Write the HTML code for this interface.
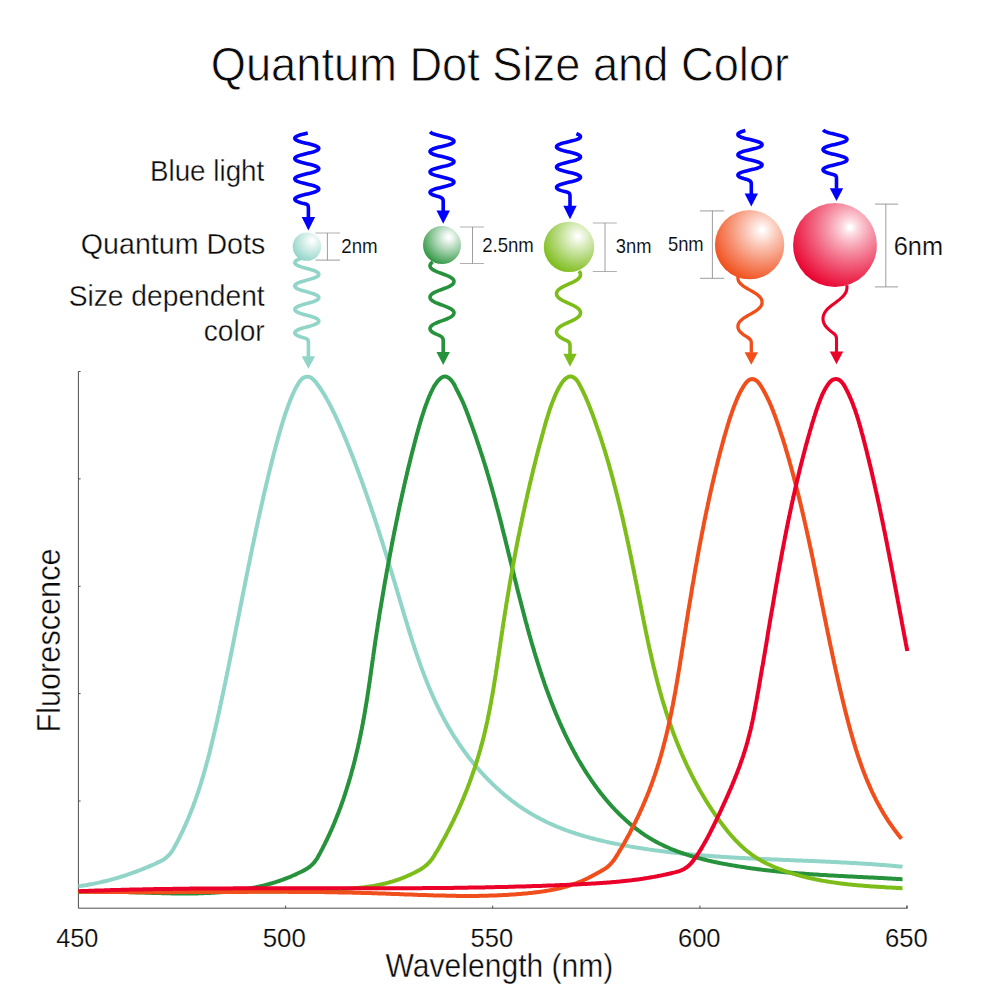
<!DOCTYPE html>
<html><head><meta charset="utf-8"><title>Quantum Dot Size and Color</title>
<style>
html,body{margin:0;padding:0;background:#fff;}
body{width:1000px;height:1000px;overflow:hidden;font-family:"Liberation Sans",sans-serif;}
svg{display:block;}
text{font-family:"Liberation Sans",sans-serif;fill:#0a0a0a;stroke:#fff;}
</style></head><body>
<svg width="1000" height="1000" viewBox="0 0 1000 1000">
<defs>
<radialGradient id="g0" gradientUnits="userSpaceOnUse" cx="311.94" cy="240.64" r="22.15"><stop offset="0" stop-color="#ffffff"/><stop offset="0.03" stop-color="#ffffff"/><stop offset="0.06" stop-color="#fcfefd"/><stop offset="0.10" stop-color="#f7fcfb"/><stop offset="0.15" stop-color="#f1faf8"/><stop offset="0.22" stop-color="#e9f6f4"/><stop offset="0.30" stop-color="#e0f3ef"/><stop offset="0.40" stop-color="#d4eeea"/><stop offset="0.50" stop-color="#c9eae4"/><stop offset="0.60" stop-color="#bde5de"/><stop offset="0.70" stop-color="#b2e1d8"/><stop offset="0.80" stop-color="#a6dcd3"/><stop offset="0.90" stop-color="#9bd8cd"/><stop offset="1.00" stop-color="#8fd3c7"/></radialGradient>
<radialGradient id="g1" gradientUnits="userSpaceOnUse" cx="448.75" cy="237.12" r="29.64"><stop offset="0" stop-color="#ffffff"/><stop offset="0.03" stop-color="#ffffff"/><stop offset="0.06" stop-color="#fafcfb"/><stop offset="0.10" stop-color="#f3f9f4"/><stop offset="0.15" stop-color="#e9f4eb"/><stop offset="0.22" stop-color="#daedde"/><stop offset="0.30" stop-color="#c9e4cf"/><stop offset="0.40" stop-color="#b4d9bb"/><stop offset="0.50" stop-color="#9ecea7"/><stop offset="0.60" stop-color="#87c393"/><stop offset="0.70" stop-color="#70b77e"/><stop offset="0.80" stop-color="#59ac69"/><stop offset="0.90" stop-color="#42a054"/><stop offset="1.00" stop-color="#2a943f"/></radialGradient>
<radialGradient id="g2" gradientUnits="userSpaceOnUse" cx="577.95" cy="236.32" r="39.31"><stop offset="0" stop-color="#ffffff"/><stop offset="0.03" stop-color="#ffffff"/><stop offset="0.06" stop-color="#fafcf6"/><stop offset="0.10" stop-color="#f4f9ec"/><stop offset="0.15" stop-color="#edf6df"/><stop offset="0.22" stop-color="#e3f1cd"/><stop offset="0.30" stop-color="#d8ebba"/><stop offset="0.40" stop-color="#cae4a2"/><stop offset="0.50" stop-color="#bcdd8a"/><stop offset="0.60" stop-color="#afd672"/><stop offset="0.70" stop-color="#a1cf5b"/><stop offset="0.80" stop-color="#94c844"/><stop offset="0.90" stop-color="#87c22d"/><stop offset="1.00" stop-color="#7abb16"/></radialGradient>
<radialGradient id="g3" gradientUnits="userSpaceOnUse" cx="761.90" cy="230.10" r="54.05"><stop offset="0" stop-color="#ffffff"/><stop offset="0.03" stop-color="#ffffff"/><stop offset="0.06" stop-color="#fef7f5"/><stop offset="0.10" stop-color="#feeee9"/><stop offset="0.15" stop-color="#fde4dc"/><stop offset="0.22" stop-color="#fcd6ca"/><stop offset="0.30" stop-color="#fac6b6"/><stop offset="0.40" stop-color="#f9b49e"/><stop offset="0.50" stop-color="#f7a287"/><stop offset="0.60" stop-color="#f69070"/><stop offset="0.70" stop-color="#f47f5a"/><stop offset="0.80" stop-color="#f36e44"/><stop offset="0.90" stop-color="#f15d2e"/><stop offset="1.00" stop-color="#f04c19"/></radialGradient>
<radialGradient id="g4" gradientUnits="userSpaceOnUse" cx="849.87" cy="227.40" r="65.36"><stop offset="0" stop-color="#ffffff"/><stop offset="0.03" stop-color="#ffffff"/><stop offset="0.06" stop-color="#feeff2"/><stop offset="0.10" stop-color="#fce0e5"/><stop offset="0.15" stop-color="#fbcfd8"/><stop offset="0.22" stop-color="#f9bac6"/><stop offset="0.30" stop-color="#f7a3b4"/><stop offset="0.40" stop-color="#f4899e"/><stop offset="0.50" stop-color="#f27089"/><stop offset="0.60" stop-color="#f05876"/><stop offset="0.70" stop-color="#ee4163"/><stop offset="0.80" stop-color="#ec2b50"/><stop offset="0.90" stop-color="#ea153f"/><stop offset="1.00" stop-color="#e8002d"/></radialGradient>
</defs>
<rect width="1000" height="1000" fill="#ffffff"/>
<g id="axes">
<path d="M78.4 371.3 V908.2 H907.5" fill="none" stroke="#4d4d4d" stroke-width="1"/>
<path d="M78.4 371.5 h2.2 M78.4 478.9 h2.2 M78.4 586.3 h2.2 M78.4 693.6 h2.2 M78.4 801.0 h2.2 M285.6 908.2 v-2.6 M492.7 908.2 v-2.6 M699.9 908.2 v-2.6 M907.0 908.2 v-2.6 M907.0 908.2 v-2.6" fill="none" stroke="#4d4d4d" stroke-width="1"/>
</g>
<g id="curves">
<path d="M78.4 886.2 L79.6 886.1 L80.8 885.9 L82.0 885.7 L83.3 885.5 L84.5 885.4 L85.7 885.2 L86.9 885.0 L88.1 884.7 L89.3 884.5 L90.5 884.3 L91.7 884.1 L92.9 883.9 L94.1 883.6 L95.3 883.4 L96.5 883.1 L97.7 882.9 L98.9 882.6 L100.0 882.4 L101.2 882.1 L102.4 881.8 L103.6 881.5 L104.8 881.2 L106.0 881.0 L107.2 880.7 L108.3 880.4 L109.5 880.1 L110.7 879.7 L111.9 879.4 L113.0 879.1 L114.2 878.8 L115.4 878.4 L116.5 878.1 L117.7 877.8 L118.9 877.4 L120.0 877.1 L121.2 876.7 L122.4 876.3 L123.5 876.0 L124.7 875.6 L125.8 875.2 L127.0 874.8 L128.1 874.4 L129.3 874.0 L130.4 873.6 L131.6 873.2 L132.7 872.8 L133.9 872.4 L135.0 872.0 L136.2 871.6 L137.3 871.1 L138.4 870.7 L139.6 870.3 L140.7 869.8 L141.8 869.4 L143.0 868.9 L144.1 868.5 L145.2 868.0 L146.4 867.5 L147.5 867.1 L148.6 866.6 L149.7 866.1 L150.8 865.6 L152.0 865.2 L153.1 864.7 L154.2 864.2 L155.3 863.7 L156.4 863.2 L157.5 862.6 L158.6 862.1 L159.7 861.6 L160.4 861.3 L161.9 860.5 L163.2 859.7 L164.6 858.8 L165.8 857.9 L167.0 856.9 L168.2 855.8 L169.3 854.7 L170.3 853.5 L171.3 852.2 L172.2 850.9 L173.1 849.5 L173.4 849.0 L174.0 847.9 L174.5 846.9 L175.1 845.8 L175.7 844.8 L176.3 843.7 L176.8 842.7 L177.4 841.6 L177.9 840.5 L178.5 839.5 L179.0 838.4 L179.6 837.3 L180.1 836.3 L180.6 835.2 L181.1 834.1 L181.7 833.0 L182.2 832.0 L182.7 830.9 L183.2 829.8 L183.7 828.7 L184.2 827.6 L184.7 826.5 L185.2 825.5 L185.7 824.4 L186.1 823.3 L186.6 822.2 L187.1 821.1 L187.6 820.0 L188.0 818.9 L188.5 817.8 L188.9 816.7 L189.4 815.6 L189.8 814.5 L190.3 813.4 L190.7 812.3 L191.2 811.1 L191.6 810.0 L192.0 808.9 L192.5 807.8 L192.9 806.7 L193.3 805.6 L193.7 804.4 L194.1 803.3 L194.6 802.2 L195.0 801.1 L195.4 799.9 L195.8 798.8 L196.2 797.7 L196.6 796.6 L196.9 795.4 L197.3 794.3 L197.7 793.2 L198.1 792.0 L198.5 790.9 L198.8 789.8 L199.2 788.6 L199.6 787.5 L200.0 786.3 L200.3 785.2 L200.7 784.1 L201.0 782.9 L201.4 781.8 L201.7 780.6 L202.1 779.5 L202.4 778.3 L202.8 777.2 L203.1 776.0 L203.5 774.9 L203.8 773.7 L204.1 772.6 L204.5 771.4 L204.8 770.3 L205.1 769.1 L205.4 767.9 L205.8 766.8 L206.1 765.6 L206.4 764.5 L206.7 763.3 L207.0 762.1 L207.3 761.0 L207.7 759.8 L208.0 758.7 L208.3 757.5 L208.6 756.3 L208.9 755.2 L209.2 754.0 L209.5 752.8 L209.8 751.7 L210.1 750.5 L210.4 749.3 L210.6 748.2 L210.9 747.0 L211.2 745.8 L211.5 744.6 L211.8 743.5 L212.1 742.3 L212.4 741.1 L212.6 740.0 L212.9 738.8 L213.2 737.6 L213.5 736.4 L213.7 735.3 L214.0 734.1 L214.3 732.9 L214.6 731.7 L214.8 730.6 L215.1 729.4 L215.4 728.2 L215.6 727.0 L215.9 725.9 L216.2 724.7 L216.4 723.5 L216.7 722.3 L217.0 721.2 L217.2 720.0 L217.5 718.8 L217.7 717.6 L218.0 716.4 L218.3 715.3 L218.5 714.1 L218.8 712.9 L219.0 711.7 L219.3 710.6 L219.6 709.4 L219.8 708.2 L220.1 707.0 L220.3 705.8 L220.6 704.7 L220.8 703.5 L221.1 702.3 L221.3 701.1 L221.6 699.9 L221.8 698.8 L222.1 697.6 L222.3 696.4 L222.6 695.2 L222.8 694.1 L223.1 692.9 L223.3 691.7 L223.6 690.5 L223.8 689.3 L224.1 688.2 L224.3 687.0 L224.6 685.8 L224.8 684.6 L225.1 683.4 L225.3 682.3 L225.6 681.1 L225.8 679.9 L226.0 678.7 L226.3 677.5 L226.5 676.4 L226.8 675.2 L227.0 674.0 L227.3 672.8 L227.5 671.6 L227.7 670.5 L228.0 669.3 L228.2 668.1 L228.5 666.9 L228.7 665.8 L228.9 664.6 L229.2 663.4 L229.4 662.2 L229.7 661.0 L229.9 659.9 L230.1 658.7 L230.4 657.5 L230.6 656.3 L230.8 655.1 L231.1 654.0 L231.3 652.8 L231.6 651.6 L231.8 650.4 L232.0 649.2 L232.3 648.1 L232.5 646.9 L232.7 645.7 L233.0 644.5 L233.2 643.3 L233.4 642.2 L233.7 641.0 L233.9 639.8 L234.1 638.6 L234.4 637.4 L234.6 636.3 L234.8 635.1 L235.1 633.9 L235.3 632.7 L235.5 631.5 L235.8 630.4 L236.0 629.2 L236.2 628.0 L236.5 626.8 L236.7 625.6 L236.9 624.5 L237.2 623.3 L237.4 622.1 L237.6 620.9 L237.9 619.7 L238.1 618.6 L238.3 617.4 L238.6 616.2 L238.8 615.0 L239.0 613.8 L239.3 612.7 L239.5 611.5 L239.7 610.3 L240.0 609.1 L240.2 607.9 L240.4 606.8 L240.7 605.6 L240.9 604.4 L241.1 603.2 L241.4 602.1 L241.6 600.9 L241.8 599.7 L242.1 598.5 L242.3 597.3 L242.5 596.2 L242.8 595.0 L243.0 593.8 L243.2 592.6 L243.5 591.4 L243.7 590.3 L243.9 589.1 L244.2 587.9 L244.4 586.7 L244.7 585.6 L244.9 584.4 L245.1 583.2 L245.4 582.0 L245.6 580.8 L245.8 579.7 L246.1 578.5 L246.3 577.3 L246.5 576.1 L246.8 575.0 L247.0 573.8 L247.2 572.6 L247.5 571.4 L247.7 570.2 L248.0 569.1 L248.2 567.9 L248.4 566.7 L248.7 565.5 L248.9 564.4 L249.2 563.2 L249.4 562.0 L249.6 560.8 L249.9 559.7 L250.1 558.5 L250.4 557.3 L250.6 556.1 L250.8 555.0 L251.1 553.8 L251.3 552.6 L251.6 551.4 L251.8 550.3 L252.1 549.1 L252.3 547.9 L252.5 546.7 L252.8 545.5 L253.0 544.4 L253.3 543.2 L253.5 542.0 L253.8 540.9 L254.0 539.7 L254.3 538.5 L254.5 537.3 L254.8 536.2 L255.0 535.0 L255.3 533.8 L255.5 532.6 L255.8 531.5 L256.0 530.3 L256.3 529.1 L256.5 527.9 L256.8 526.8 L257.0 525.6 L257.3 524.4 L257.5 523.2 L257.8 522.1 L258.0 520.9 L258.3 519.7 L258.5 518.6 L258.8 517.4 L259.1 516.2 L259.3 515.0 L259.6 513.9 L259.8 512.7 L260.1 511.5 L260.4 510.4 L260.6 509.2 L260.9 508.0 L261.1 506.8 L261.4 505.7 L261.7 504.5 L261.9 503.3 L262.2 502.2 L262.5 501.0 L262.7 499.8 L263.0 498.6 L263.3 497.5 L263.5 496.3 L263.8 495.1 L264.1 494.0 L264.3 492.8 L264.6 491.6 L264.9 490.5 L265.1 489.3 L265.4 488.1 L265.7 487.0 L266.0 485.8 L266.2 484.6 L266.5 483.5 L266.8 482.3 L267.1 481.1 L267.4 480.0 L267.6 478.8 L267.9 477.6 L268.2 476.5 L268.5 475.3 L268.8 474.1 L269.0 473.0 L269.3 471.8 L269.6 470.6 L269.9 469.5 L270.2 468.3 L270.5 467.1 L270.8 466.0 L271.1 464.8 L271.3 463.6 L271.6 462.5 L271.9 461.3 L272.2 460.1 L272.5 459.0 L272.8 457.8 L273.1 456.6 L273.4 455.5 L273.7 454.3 L274.0 453.2 L274.3 452.0 L274.6 450.8 L274.9 449.7 L275.2 448.5 L275.5 447.3 L275.8 446.2 L276.1 445.0 L276.4 443.9 L276.8 442.7 L277.1 441.5 L277.4 440.4 L277.7 439.2 L278.0 438.1 L278.3 436.9 L278.7 435.8 L279.0 434.6 L279.3 433.4 L279.6 432.3 L280.0 431.1 L280.3 430.0 L280.6 428.8 L281.0 427.7 L281.3 426.5 L281.7 425.4 L282.0 424.2 L282.4 423.1 L282.7 421.9 L283.1 420.8 L283.5 419.6 L283.8 418.5 L284.2 417.3 L284.6 416.2 L284.9 415.0 L285.3 413.9 L285.7 412.8 L286.1 411.6 L286.5 410.5 L286.9 409.3 L287.3 408.2 L287.7 407.1 L288.1 405.9 L288.5 404.8 L288.9 403.7 L289.4 402.6 L289.8 401.4 L290.2 400.3 L290.7 399.2 L291.1 398.1 L291.6 397.0 L292.1 395.9 L292.5 394.8 L293.0 393.7 L293.5 392.6 L294.0 391.6 L294.5 390.5 L295.0 389.4 L295.6 388.3 L296.1 387.3 L296.7 386.2 L297.3 385.2 L298.0 384.1 L298.6 383.1 L299.3 382.0 L300.0 381.0 L300.8 380.1 L301.6 379.2 L302.5 378.5 L303.5 377.8 L304.6 377.2 L305.7 376.9 L306.9 376.7 L308.0 376.7 L309.2 376.9 L310.3 377.3 L311.3 377.9 L312.3 378.6 L313.2 379.4 L314.1 380.2 L314.9 381.2 L315.7 382.1 L316.5 383.1 L317.2 384.1 L317.9 385.0 L318.6 386.0 L319.3 387.0 L320.0 388.0 L320.7 389.0 L321.3 390.0 L322.0 391.0 L322.6 392.0 L323.2 393.0 L323.9 394.0 L324.5 395.0 L325.1 396.1 L325.7 397.1 L326.3 398.1 L326.9 399.2 L327.5 400.2 L328.0 401.3 L328.6 402.3 L329.2 403.4 L329.7 404.4 L330.3 405.5 L330.9 406.6 L331.4 407.6 L331.9 408.7 L332.5 409.8 L333.0 410.9 L333.5 412.0 L334.1 413.0 L334.6 414.1 L335.1 415.2 L335.6 416.3 L336.1 417.4 L336.6 418.5 L337.1 419.6 L337.6 420.7 L338.1 421.8 L338.6 422.9 L339.1 424.0 L339.6 425.1 L340.1 426.2 L340.6 427.3 L341.1 428.4 L341.5 429.5 L342.0 430.6 L342.5 431.7 L343.0 432.8 L343.4 433.9 L343.9 435.0 L344.4 436.1 L344.8 437.2 L345.3 438.3 L345.7 439.4 L346.2 440.5 L346.7 441.7 L347.1 442.8 L347.6 443.9 L348.0 445.0 L348.5 446.1 L348.9 447.2 L349.4 448.3 L349.8 449.5 L350.2 450.6 L350.7 451.7 L351.1 452.8 L351.6 453.9 L352.0 455.0 L352.4 456.2 L352.9 457.3 L353.3 458.4 L353.7 459.5 L354.2 460.6 L354.6 461.8 L355.0 462.9 L355.4 464.0 L355.9 465.1 L356.3 466.2 L356.7 467.4 L357.1 468.5 L357.5 469.6 L358.0 470.7 L358.4 471.9 L358.8 473.0 L359.2 474.1 L359.6 475.2 L360.0 476.4 L360.4 477.5 L360.9 478.6 L361.3 479.7 L361.7 480.9 L362.1 482.0 L362.5 483.1 L362.9 484.3 L363.3 485.4 L363.7 486.5 L364.1 487.6 L364.5 488.8 L364.9 489.9 L365.3 491.0 L365.7 492.2 L366.1 493.3 L366.5 494.4 L366.9 495.6 L367.3 496.7 L367.7 497.8 L368.1 499.0 L368.5 500.1 L368.8 501.2 L369.2 502.4 L369.6 503.5 L370.0 504.6 L370.4 505.8 L370.8 506.9 L371.2 508.1 L371.5 509.2 L371.9 510.3 L372.3 511.5 L372.7 512.6 L373.1 513.7 L373.5 514.9 L373.8 516.0 L374.2 517.2 L374.6 518.3 L375.0 519.4 L375.3 520.6 L375.7 521.7 L376.1 522.9 L376.5 524.0 L376.8 525.1 L377.2 526.3 L377.6 527.4 L377.9 528.6 L378.3 529.7 L378.7 530.9 L379.0 532.0 L379.4 533.1 L379.8 534.3 L380.1 535.4 L380.5 536.6 L380.9 537.7 L381.2 538.9 L381.6 540.0 L382.0 541.2 L382.3 542.3 L382.7 543.4 L383.0 544.6 L383.4 545.7 L383.8 546.9 L384.1 548.0 L384.5 549.2 L384.8 550.3 L385.2 551.5 L385.6 552.6 L385.9 553.8 L386.3 554.9 L386.6 556.1 L387.0 557.2 L387.3 558.4 L387.7 559.5 L388.0 560.7 L388.4 561.8 L388.7 563.0 L389.1 564.1 L389.4 565.3 L389.8 566.4 L390.1 567.6 L390.5 568.7 L390.8 569.9 L391.2 571.0 L391.5 572.2 L391.9 573.3 L392.2 574.5 L392.6 575.6 L392.9 576.8 L393.3 578.0 L393.6 579.1 L394.0 580.3 L394.3 581.4 L394.7 582.6 L395.0 583.7 L395.4 584.9 L395.7 586.0 L396.0 587.2 L396.4 588.3 L396.7 589.5 L397.1 590.7 L397.4 591.8 L397.8 593.0 L398.1 594.1 L398.4 595.3 L398.8 596.4 L399.1 597.6 L399.5 598.8 L399.8 599.9 L400.2 601.1 L400.5 602.2 L400.8 603.4 L401.2 604.5 L401.5 605.7 L401.9 606.9 L402.2 608.0 L402.6 609.2 L402.9 610.3 L403.2 611.5 L403.6 612.6 L403.9 613.8 L404.3 615.0 L404.6 616.1 L405.0 617.3 L405.3 618.4 L405.7 619.6 L406.0 620.7 L406.4 621.9 L406.7 623.0 L407.1 624.2 L407.4 625.3 L407.8 626.5 L408.1 627.7 L408.5 628.8 L408.8 630.0 L409.2 631.1 L409.5 632.3 L409.9 633.4 L410.3 634.6 L410.6 635.7 L411.0 636.9 L411.3 638.0 L411.7 639.2 L412.1 640.3 L412.4 641.4 L412.8 642.6 L413.2 643.7 L413.6 644.9 L413.9 646.0 L414.3 647.2 L414.7 648.3 L415.1 649.5 L415.4 650.6 L415.8 651.7 L416.2 652.9 L416.6 654.0 L417.0 655.2 L417.4 656.3 L417.8 657.4 L418.2 658.6 L418.6 659.7 L419.0 660.8 L419.4 662.0 L419.8 663.1 L420.2 664.2 L420.6 665.4 L421.0 666.5 L421.4 667.6 L421.8 668.7 L422.2 669.9 L422.6 671.0 L423.1 672.1 L423.5 673.2 L423.9 674.4 L424.3 675.5 L424.8 676.6 L425.2 677.7 L425.6 678.8 L426.1 679.9 L426.5 681.1 L427.0 682.2 L427.4 683.3 L427.9 684.4 L428.3 685.5 L428.8 686.6 L429.2 687.7 L429.7 688.8 L430.2 689.9 L430.6 691.0 L431.1 692.1 L431.6 693.2 L432.0 694.3 L432.5 695.4 L433.0 696.5 L433.5 697.6 L434.0 698.7 L434.5 699.8 L435.0 700.8 L435.5 701.9 L436.0 703.0 L436.5 704.1 L437.0 705.2 L437.5 706.3 L438.1 707.3 L438.6 708.4 L439.1 709.5 L439.6 710.6 L440.2 711.6 L440.7 712.7 L441.3 713.8 L441.8 714.8 L442.4 715.9 L442.9 716.9 L443.5 718.0 L444.1 719.1 L444.6 720.1 L445.2 721.2 L445.8 722.2 L446.4 723.3 L446.9 724.3 L447.5 725.3 L448.1 726.4 L448.7 727.4 L449.3 728.5 L449.9 729.5 L450.6 730.5 L451.2 731.6 L451.8 732.6 L452.4 733.6 L453.1 734.6 L453.7 735.7 L454.3 736.7 L455.0 737.7 L455.6 738.7 L456.3 739.7 L457.0 740.7 L457.6 741.7 L458.3 742.7 L459.0 743.7 L459.6 744.7 L460.3 745.7 L461.0 746.7 L461.7 747.7 L462.4 748.7 L463.1 749.7 L463.8 750.7 L464.5 751.7 L465.2 752.6 L465.9 753.6 L466.7 754.6 L467.4 755.5 L468.1 756.5 L468.9 757.5 L469.6 758.4 L470.3 759.4 L471.1 760.3 L471.9 761.2 L472.6 762.2 L473.4 763.1 L474.1 764.1 L474.9 765.0 L475.7 765.9 L476.5 766.8 L477.2 767.8 L478.0 768.7 L478.8 769.6 L479.6 770.5 L480.4 771.4 L481.2 772.3 L482.0 773.2 L482.9 774.1 L483.7 775.0 L484.5 775.8 L485.3 776.7 L486.2 777.6 L487.0 778.5 L487.8 779.3 L488.7 780.2 L489.5 781.0 L490.4 781.9 L491.2 782.7 L492.1 783.6 L492.9 784.4 L493.8 785.2 L494.7 786.1 L495.6 786.9 L496.4 787.7 L497.3 788.5 L498.2 789.3 L499.1 790.1 L500.0 790.9 L500.9 791.7 L501.8 792.5 L502.7 793.3 L503.6 794.1 L504.5 794.8 L505.5 795.6 L506.4 796.4 L507.3 797.1 L508.3 797.9 L509.2 798.6 L510.1 799.4 L511.1 800.1 L512.0 800.8 L513.0 801.5 L513.9 802.3 L514.9 803.0 L515.9 803.7 L516.8 804.4 L517.8 805.1 L518.8 805.8 L519.7 806.4 L520.7 807.1 L521.7 807.8 L522.7 808.5 L523.7 809.1 L524.7 809.8 L525.7 810.4 L526.7 811.0 L527.7 811.7 L528.7 812.3 L529.7 812.9 L530.8 813.5 L531.8 814.1 L532.8 814.7 L533.9 815.3 L534.9 815.9 L535.9 816.5 L537.0 817.1 L538.0 817.6 L539.1 818.2 L540.1 818.8 L541.2 819.3 L542.2 819.8 L543.3 820.4 L544.4 820.9 L545.4 821.4 L546.5 822.0 L547.6 822.5 L548.7 823.0 L549.8 823.5 L550.8 824.0 L551.9 824.4 L553.0 824.9 L554.1 825.4 L555.2 825.9 L556.3 826.3 L557.4 826.8 L558.5 827.2 L559.6 827.7 L560.8 828.1 L561.9 828.6 L563.0 829.0 L564.1 829.4 L565.2 829.8 L566.4 830.3 L567.5 830.7 L568.6 831.1 L569.8 831.5 L570.9 831.9 L572.0 832.3 L573.2 832.6 L574.3 833.0 L575.4 833.4 L576.6 833.8 L577.7 834.1 L578.9 834.5 L580.0 834.8 L581.2 835.2 L582.3 835.5 L583.5 835.9 L584.7 836.2 L585.8 836.6 L587.0 836.9 L588.1 837.2 L589.3 837.5 L590.5 837.9 L591.6 838.2 L592.8 838.5 L594.0 838.8 L595.2 839.1 L596.3 839.4 L597.5 839.7 L598.7 840.0 L599.9 840.3 L601.0 840.5 L602.2 840.8 L603.4 841.1 L604.6 841.4 L605.8 841.6 L607.0 841.9 L608.1 842.2 L609.3 842.4 L610.5 842.7 L611.7 842.9 L612.9 843.2 L614.1 843.4 L615.3 843.7 L616.4 843.9 L617.6 844.1 L618.8 844.4 L620.0 844.6 L621.2 844.8 L622.4 845.1 L623.6 845.3 L624.8 845.5 L626.0 845.7 L627.2 845.9 L628.4 846.1 L629.6 846.4 L630.7 846.6 L631.9 846.8 L633.1 847.0 L634.3 847.2 L635.5 847.4 L636.7 847.6 L637.9 847.8 L639.1 848.0 L640.3 848.1 L641.5 848.3 L642.7 848.5 L643.9 848.7 L645.1 848.9 L646.3 849.1 L647.4 849.2 L648.6 849.4 L649.8 849.6 L651.0 849.8 L652.2 849.9 L653.4 850.1 L654.6 850.3 L655.8 850.4 L657.0 850.6 L658.2 850.7 L659.4 850.9 L660.6 851.0 L661.8 851.2 L663.0 851.3 L664.1 851.5 L665.3 851.6 L666.5 851.8 L667.7 851.9 L668.9 852.1 L670.1 852.2 L671.3 852.4 L672.5 852.5 L673.7 852.6 L674.9 852.8 L676.1 852.9 L677.3 853.0 L678.5 853.1 L679.7 853.3 L680.9 853.4 L682.1 853.5 L683.2 853.6 L684.4 853.8 L685.6 853.9 L686.8 854.0 L688.0 854.1 L689.2 854.2 L690.4 854.3 L691.6 854.4 L692.8 854.6 L694.0 854.7 L695.2 854.8 L696.4 854.9 L697.6 855.0 L698.8 855.1 L700.0 855.2 L701.2 855.3 L702.3 855.4 L703.5 855.5 L704.7 855.6 L705.9 855.7 L707.1 855.8 L708.3 855.8 L709.5 855.9 L710.7 856.0 L711.9 856.1 L713.1 856.2 L714.3 856.3 L715.5 856.4 L716.7 856.5 L717.9 856.5 L719.1 856.6 L720.3 856.7 L721.5 856.8 L722.7 856.9 L723.9 856.9 L725.0 857.0 L726.2 857.1 L727.4 857.2 L728.6 857.2 L729.8 857.3 L731.0 857.4 L732.2 857.5 L733.4 857.5 L734.6 857.6 L735.8 857.7 L737.0 857.7 L738.2 857.8 L739.4 857.9 L740.6 857.9 L741.8 858.0 L743.0 858.0 L744.2 858.1 L745.4 858.2 L746.6 858.2 L747.8 858.3 L749.0 858.4 L750.1 858.4 L751.3 858.5 L752.5 858.5 L753.7 858.6 L754.9 858.6 L756.1 858.7 L757.3 858.8 L758.5 858.8 L759.7 858.9 L760.9 858.9 L762.1 859.0 L763.3 859.0 L764.5 859.1 L765.7 859.1 L766.9 859.2 L768.1 859.2 L769.3 859.3 L770.5 859.3 L771.7 859.4 L772.9 859.4 L774.1 859.5 L775.3 859.5 L776.5 859.6 L777.7 859.6 L778.9 859.7 L780.1 859.7 L781.3 859.8 L782.5 859.8 L783.7 859.9 L784.8 859.9 L786.0 860.0 L787.2 860.0 L788.4 860.1 L789.6 860.1 L790.8 860.2 L792.0 860.2 L793.2 860.3 L794.4 860.3 L795.6 860.4 L796.8 860.4 L798.0 860.5 L799.2 860.5 L800.4 860.6 L801.6 860.6 L802.8 860.7 L804.0 860.7 L805.2 860.7 L806.4 860.8 L807.6 860.8 L808.8 860.9 L810.0 860.9 L811.2 861.0 L812.4 861.0 L813.6 861.1 L814.8 861.1 L816.0 861.2 L817.2 861.2 L818.4 861.3 L819.6 861.3 L820.8 861.4 L822.0 861.5 L823.2 861.5 L824.4 861.6 L825.6 861.6 L826.8 861.7 L828.0 861.7 L829.2 861.8 L830.4 861.8 L831.6 861.9 L832.8 861.9 L834.0 862.0 L835.2 862.1 L836.4 862.1 L837.6 862.2 L838.8 862.2 L840.0 862.3 L841.2 862.4 L842.4 862.4 L843.6 862.5 L844.8 862.5 L846.0 862.6 L847.2 862.7 L848.4 862.7 L849.6 862.8 L850.8 862.9 L852.0 862.9 L853.2 863.0 L854.4 863.1 L855.6 863.1 L856.8 863.2 L858.0 863.3 L859.2 863.4 L860.4 863.4 L861.6 863.5 L862.8 863.6 L864.0 863.7 L865.2 863.7 L866.4 863.8 L867.6 863.9 L868.8 864.0 L870.0 864.1 L871.2 864.1 L872.4 864.2 L873.6 864.3 L874.8 864.4 L876.0 864.5 L877.2 864.6 L878.4 864.7 L879.6 864.8 L880.8 864.9 L882.0 864.9 L883.2 865.0 L884.4 865.1 L885.6 865.2 L886.9 865.3 L888.1 865.4 L889.3 865.5 L890.5 865.6 L891.7 865.7 L892.9 865.9 L894.1 866.0 L895.3 866.1 L896.5 866.2 L897.7 866.3 L898.9 866.4 L900.1 866.5 L901.3 866.6 L902.5 866.8" fill="none" stroke="#91d4c8" stroke-width="4.0" stroke-linejoin="round"/>
<path d="M78.4 892.0 L79.6 892.0 L80.8 891.9 L81.9 891.9 L83.1 891.8 L84.3 891.8 L85.5 891.8 L86.7 891.7 L87.9 891.7 L89.1 891.7 L90.2 891.7 L91.4 891.6 L92.6 891.6 L93.8 891.6 L95.0 891.6 L96.2 891.6 L97.4 891.6 L98.6 891.6 L99.8 891.6 L101.0 891.6 L102.2 891.6 L103.4 891.6 L104.6 891.6 L105.8 891.6 L107.0 891.6 L108.2 891.7 L109.4 891.7 L110.6 891.7 L111.8 891.7 L113.1 891.7 L114.3 891.8 L115.5 891.8 L116.7 891.8 L117.9 891.8 L119.1 891.9 L120.3 891.9 L121.5 891.9 L122.7 892.0 L124.0 892.0 L125.2 892.0 L126.4 892.1 L127.6 892.1 L128.8 892.1 L130.0 892.2 L131.3 892.2 L132.5 892.2 L133.7 892.3 L134.9 892.3 L136.1 892.4 L137.4 892.4 L138.6 892.4 L139.8 892.5 L141.0 892.5 L142.2 892.6 L143.5 892.6 L144.7 892.6 L145.9 892.7 L147.1 892.7 L148.4 892.8 L149.6 892.8 L150.8 892.8 L152.0 892.9 L153.3 892.9 L154.5 892.9 L155.7 893.0 L156.9 893.0 L158.2 893.1 L159.4 893.1 L160.6 893.1 L161.8 893.2 L163.1 893.2 L164.3 893.2 L165.5 893.2 L166.7 893.3 L168.0 893.3 L169.2 893.3 L170.4 893.3 L171.6 893.4 L172.8 893.4 L174.1 893.4 L175.3 893.4 L176.5 893.4 L177.7 893.5 L179.0 893.5 L180.2 893.5 L181.4 893.5 L182.6 893.5 L183.9 893.5 L185.1 893.5 L186.3 893.5 L187.5 893.5 L188.7 893.5 L190.0 893.5 L191.2 893.5 L192.4 893.4 L193.6 893.4 L194.8 893.4 L196.1 893.4 L197.3 893.4 L198.5 893.3 L199.7 893.3 L200.9 893.3 L202.1 893.2 L203.4 893.2 L204.6 893.1 L205.8 893.1 L207.0 893.0 L208.2 893.0 L209.4 892.9 L210.6 892.9 L211.8 892.8 L213.1 892.7 L214.3 892.7 L215.5 892.6 L216.7 892.5 L217.9 892.4 L219.1 892.3 L220.3 892.3 L221.5 892.2 L222.7 892.1 L223.9 891.9 L225.1 891.8 L226.3 891.7 L227.5 891.6 L228.7 891.5 L229.9 891.4 L231.1 891.2 L232.3 891.1 L233.5 890.9 L234.7 890.8 L235.9 890.7 L237.1 890.5 L238.2 890.3 L239.4 890.2 L240.6 890.0 L241.8 889.8 L243.0 889.6 L244.2 889.4 L245.4 889.3 L246.5 889.1 L247.7 888.9 L248.9 888.6 L250.1 888.4 L251.2 888.2 L252.4 888.0 L253.6 887.7 L254.8 887.5 L255.9 887.3 L257.1 887.0 L258.3 886.7 L259.4 886.5 L260.6 886.2 L261.7 885.9 L262.9 885.7 L264.1 885.4 L265.2 885.1 L266.4 884.8 L267.5 884.5 L268.7 884.1 L269.8 883.8 L271.0 883.5 L272.1 883.2 L273.3 882.8 L274.4 882.5 L275.6 882.1 L276.7 881.7 L277.8 881.4 L279.0 881.0 L280.1 880.6 L281.2 880.2 L282.4 879.8 L283.5 879.4 L284.6 879.0 L285.8 878.5 L286.9 878.1 L288.0 877.7 L289.1 877.2 L290.2 876.8 L291.4 876.3 L292.5 875.8 L293.6 875.3 L294.7 874.9 L295.8 874.4 L296.9 873.8 L298.0 873.3 L299.1 872.8 L300.2 872.3 L301.3 871.7 L302.4 871.2 L303.5 870.6 L304.6 870.1 L305.4 869.6 L306.8 868.8 L308.1 867.9 L309.4 867.0 L310.6 866.0 L311.8 864.9 L312.9 863.8 L314.0 862.6 L315.0 861.4 L315.9 860.1 L316.8 858.8 L317.7 857.4 L318.0 856.9 L318.6 855.8 L319.1 854.7 L319.7 853.7 L320.3 852.6 L320.8 851.6 L321.4 850.5 L322.0 849.4 L322.5 848.4 L323.1 847.3 L323.6 846.2 L324.1 845.2 L324.7 844.1 L325.2 843.0 L325.7 841.9 L326.3 840.9 L326.8 839.8 L327.3 838.7 L327.8 837.6 L328.3 836.5 L328.8 835.5 L329.3 834.4 L329.8 833.3 L330.3 832.2 L330.8 831.1 L331.3 830.0 L331.8 828.9 L332.3 827.8 L332.7 826.7 L333.2 825.6 L333.7 824.5 L334.1 823.4 L334.6 822.3 L335.0 821.2 L335.5 820.1 L335.9 819.0 L336.4 817.8 L336.8 816.7 L337.3 815.6 L337.7 814.5 L338.1 813.4 L338.6 812.3 L339.0 811.1 L339.4 810.0 L339.8 808.9 L340.3 807.8 L340.7 806.6 L341.1 805.5 L341.5 804.4 L341.9 803.3 L342.3 802.1 L342.7 801.0 L343.1 799.9 L343.5 798.7 L343.9 797.6 L344.2 796.4 L344.6 795.3 L345.0 794.2 L345.4 793.0 L345.7 791.9 L346.1 790.7 L346.5 789.6 L346.8 788.4 L347.2 787.3 L347.5 786.2 L347.9 785.0 L348.3 783.9 L348.6 782.7 L348.9 781.6 L349.3 780.4 L349.6 779.2 L350.0 778.1 L350.3 776.9 L350.6 775.8 L351.0 774.6 L351.3 773.5 L351.6 772.3 L351.9 771.1 L352.2 770.0 L352.5 768.8 L352.9 767.7 L353.2 766.5 L353.5 765.3 L353.8 764.2 L354.1 763.0 L354.4 761.8 L354.7 760.7 L355.0 759.5 L355.3 758.3 L355.5 757.2 L355.8 756.0 L356.1 754.8 L356.4 753.6 L356.7 752.5 L356.9 751.3 L357.2 750.1 L357.5 748.9 L357.8 747.8 L358.0 746.6 L358.3 745.4 L358.5 744.2 L358.8 743.1 L359.1 741.9 L359.3 740.7 L359.6 739.5 L359.8 738.3 L360.1 737.2 L360.3 736.0 L360.6 734.8 L360.8 733.6 L361.0 732.4 L361.3 731.3 L361.5 730.1 L361.8 728.9 L362.0 727.7 L362.2 726.5 L362.4 725.3 L362.7 724.2 L362.9 723.0 L363.1 721.8 L363.3 720.6 L363.5 719.4 L363.8 718.2 L364.0 717.0 L364.2 715.9 L364.4 714.7 L364.6 713.5 L364.8 712.3 L365.0 711.1 L365.2 709.9 L365.4 708.7 L365.6 707.6 L365.8 706.4 L366.0 705.2 L366.2 704.0 L366.4 702.8 L366.6 701.6 L366.8 700.4 L367.0 699.2 L367.2 698.1 L367.4 696.9 L367.5 695.7 L367.7 694.5 L367.9 693.3 L368.1 692.1 L368.3 690.9 L368.4 689.7 L368.6 688.6 L368.8 687.4 L369.0 686.2 L369.1 685.0 L369.3 683.8 L369.5 682.6 L369.7 681.4 L369.8 680.2 L370.0 679.1 L370.2 677.9 L370.3 676.7 L370.5 675.5 L370.7 674.3 L370.8 673.1 L371.0 671.9 L371.2 670.7 L371.3 669.5 L371.5 668.4 L371.7 667.2 L371.8 666.0 L372.0 664.8 L372.2 663.6 L372.3 662.4 L372.5 661.2 L372.7 660.0 L372.8 658.9 L373.0 657.7 L373.2 656.5 L373.3 655.3 L373.5 654.1 L373.7 652.9 L373.9 651.7 L374.0 650.5 L374.2 649.3 L374.4 648.2 L374.5 647.0 L374.7 645.8 L374.9 644.6 L375.1 643.4 L375.2 642.2 L375.4 641.0 L375.6 639.8 L375.8 638.6 L375.9 637.5 L376.1 636.3 L376.3 635.1 L376.5 633.9 L376.6 632.7 L376.8 631.5 L377.0 630.3 L377.2 629.1 L377.4 628.0 L377.6 626.8 L377.7 625.6 L377.9 624.4 L378.1 623.2 L378.3 622.0 L378.5 620.8 L378.7 619.6 L378.9 618.5 L379.1 617.3 L379.2 616.1 L379.4 614.9 L379.6 613.7 L379.8 612.5 L380.0 611.3 L380.2 610.1 L380.4 608.9 L380.6 607.8 L380.8 606.6 L381.0 605.4 L381.2 604.2 L381.4 603.0 L381.6 601.8 L381.8 600.6 L382.0 599.5 L382.2 598.3 L382.4 597.1 L382.6 595.9 L382.8 594.7 L383.0 593.5 L383.2 592.3 L383.4 591.1 L383.6 590.0 L383.8 588.8 L384.0 587.6 L384.2 586.4 L384.4 585.2 L384.6 584.0 L384.8 582.8 L385.0 581.7 L385.2 580.5 L385.5 579.3 L385.7 578.1 L385.9 576.9 L386.1 575.7 L386.3 574.6 L386.5 573.4 L386.7 572.2 L386.9 571.0 L387.2 569.8 L387.4 568.6 L387.6 567.5 L387.8 566.3 L388.0 565.1 L388.2 563.9 L388.5 562.7 L388.7 561.5 L388.9 560.4 L389.1 559.2 L389.3 558.0 L389.6 556.8 L389.8 555.6 L390.0 554.4 L390.2 553.3 L390.5 552.1 L390.7 550.9 L390.9 549.7 L391.1 548.5 L391.4 547.4 L391.6 546.2 L391.8 545.0 L392.0 543.8 L392.3 542.6 L392.5 541.4 L392.7 540.3 L392.9 539.1 L393.2 537.9 L393.4 536.7 L393.6 535.6 L393.9 534.4 L394.1 533.2 L394.3 532.0 L394.6 530.8 L394.8 529.7 L395.1 528.5 L395.3 527.3 L395.5 526.1 L395.8 524.9 L396.0 523.8 L396.2 522.6 L396.5 521.4 L396.7 520.2 L397.0 519.1 L397.2 517.9 L397.5 516.7 L397.7 515.5 L397.9 514.4 L398.2 513.2 L398.4 512.0 L398.7 510.8 L398.9 509.7 L399.2 508.5 L399.4 507.3 L399.7 506.1 L399.9 505.0 L400.2 503.8 L400.4 502.6 L400.7 501.4 L400.9 500.3 L401.2 499.1 L401.5 497.9 L401.7 496.7 L402.0 495.6 L402.2 494.4 L402.5 493.2 L402.8 492.0 L403.0 490.9 L403.3 489.7 L403.5 488.5 L403.8 487.4 L404.1 486.2 L404.3 485.0 L404.6 483.8 L404.9 482.7 L405.1 481.5 L405.4 480.3 L405.7 479.2 L406.0 478.0 L406.2 476.8 L406.5 475.7 L406.8 474.5 L407.1 473.3 L407.3 472.1 L407.6 471.0 L407.9 469.8 L408.2 468.6 L408.4 467.5 L408.7 466.3 L409.0 465.1 L409.3 464.0 L409.6 462.8 L409.9 461.6 L410.2 460.5 L410.4 459.3 L410.7 458.1 L411.0 457.0 L411.3 455.8 L411.6 454.6 L411.9 453.5 L412.2 452.3 L412.5 451.1 L412.8 450.0 L413.1 448.8 L413.4 447.7 L413.7 446.5 L414.0 445.3 L414.3 444.2 L414.6 443.0 L414.9 441.8 L415.2 440.7 L415.5 439.5 L415.8 438.4 L416.1 437.2 L416.4 436.0 L416.7 434.9 L417.1 433.7 L417.4 432.5 L417.7 431.4 L418.0 430.2 L418.3 429.1 L418.7 427.9 L419.0 426.8 L419.3 425.6 L419.7 424.4 L420.0 423.3 L420.3 422.1 L420.7 421.0 L421.0 419.8 L421.4 418.7 L421.7 417.5 L422.1 416.4 L422.5 415.3 L422.8 414.1 L423.2 413.0 L423.6 411.8 L424.0 410.7 L424.3 409.5 L424.7 408.4 L425.1 407.3 L425.5 406.1 L425.9 405.0 L426.3 403.9 L426.8 402.7 L427.2 401.6 L427.6 400.5 L428.0 399.4 L428.5 398.3 L428.9 397.1 L429.4 396.0 L429.9 394.9 L430.4 393.8 L430.8 392.7 L431.4 391.6 L431.9 390.6 L432.4 389.5 L433.0 388.4 L433.5 387.4 L434.1 386.4 L434.7 385.3 L435.4 384.3 L436.1 383.3 L436.8 382.3 L437.5 381.4 L438.3 380.5 L439.2 379.6 L440.1 378.7 L441.1 377.9 L442.1 377.3 L443.2 376.8 L444.3 376.6 L445.5 376.6 L446.6 376.8 L447.6 377.3 L448.7 377.9 L449.6 378.6 L450.5 379.5 L451.4 380.4 L452.1 381.3 L452.8 382.3 L453.5 383.3 L454.1 384.4 L454.7 385.4 L455.2 386.5 L455.7 387.6 L456.3 388.7 L456.8 389.8 L457.3 390.8 L457.9 391.9 L458.4 393.0 L459.0 394.0 L459.5 395.1 L460.1 396.2 L460.6 397.3 L461.1 398.3 L461.6 399.4 L462.1 400.5 L462.6 401.6 L463.1 402.7 L463.6 403.8 L464.0 404.9 L464.5 406.0 L464.9 407.2 L465.4 408.3 L465.8 409.4 L466.3 410.5 L466.7 411.6 L467.1 412.8 L467.5 413.9 L468.0 415.0 L468.4 416.1 L468.8 417.3 L469.2 418.4 L469.6 419.5 L470.0 420.7 L470.4 421.8 L470.9 422.9 L471.3 424.0 L471.7 425.2 L472.1 426.3 L472.5 427.4 L472.9 428.6 L473.3 429.7 L473.7 430.8 L474.1 432.0 L474.5 433.1 L474.9 434.2 L475.3 435.4 L475.7 436.5 L476.1 437.7 L476.5 438.8 L476.8 439.9 L477.2 441.1 L477.6 442.2 L478.0 443.3 L478.4 444.5 L478.8 445.6 L479.1 446.8 L479.5 447.9 L479.9 449.0 L480.3 450.2 L480.6 451.3 L481.0 452.5 L481.4 453.6 L481.8 454.8 L482.1 455.9 L482.5 457.0 L482.9 458.2 L483.2 459.3 L483.6 460.5 L483.9 461.6 L484.3 462.8 L484.7 463.9 L485.0 465.1 L485.4 466.2 L485.7 467.4 L486.1 468.5 L486.4 469.7 L486.8 470.8 L487.1 472.0 L487.4 473.1 L487.8 474.3 L488.1 475.4 L488.5 476.6 L488.8 477.7 L489.1 478.9 L489.5 480.0 L489.8 481.2 L490.1 482.3 L490.5 483.5 L490.8 484.7 L491.1 485.8 L491.5 487.0 L491.8 488.1 L492.1 489.3 L492.4 490.4 L492.7 491.6 L493.1 492.8 L493.4 493.9 L493.7 495.1 L494.0 496.2 L494.3 497.4 L494.7 498.6 L495.0 499.7 L495.3 500.9 L495.6 502.0 L495.9 503.2 L496.2 504.4 L496.5 505.5 L496.8 506.7 L497.1 507.8 L497.5 509.0 L497.8 510.2 L498.1 511.3 L498.4 512.5 L498.7 513.7 L499.0 514.8 L499.3 516.0 L499.6 517.1 L499.9 518.3 L500.2 519.5 L500.5 520.6 L500.8 521.8 L501.1 523.0 L501.4 524.1 L501.7 525.3 L502.0 526.5 L502.2 527.6 L502.5 528.8 L502.8 530.0 L503.1 531.1 L503.4 532.3 L503.7 533.5 L504.0 534.6 L504.3 535.8 L504.6 537.0 L504.9 538.1 L505.2 539.3 L505.5 540.5 L505.7 541.6 L506.0 542.8 L506.3 544.0 L506.6 545.1 L506.9 546.3 L507.2 547.5 L507.5 548.7 L507.8 549.8 L508.0 551.0 L508.3 552.2 L508.6 553.3 L508.9 554.5 L509.2 555.7 L509.5 556.8 L509.8 558.0 L510.1 559.2 L510.3 560.3 L510.6 561.5 L510.9 562.7 L511.2 563.8 L511.5 565.0 L511.8 566.2 L512.1 567.3 L512.3 568.5 L512.6 569.7 L512.9 570.8 L513.2 572.0 L513.5 573.2 L513.8 574.4 L514.1 575.5 L514.3 576.7 L514.6 577.9 L514.9 579.0 L515.2 580.2 L515.5 581.4 L515.8 582.5 L516.1 583.7 L516.4 584.9 L516.7 586.0 L516.9 587.2 L517.2 588.4 L517.5 589.5 L517.8 590.7 L518.1 591.9 L518.4 593.0 L518.7 594.2 L519.0 595.4 L519.3 596.5 L519.6 597.7 L519.9 598.9 L520.2 600.0 L520.5 601.2 L520.8 602.3 L521.1 603.5 L521.4 604.7 L521.7 605.8 L522.0 607.0 L522.3 608.2 L522.6 609.3 L522.9 610.5 L523.2 611.7 L523.5 612.8 L523.8 614.0 L524.1 615.1 L524.4 616.3 L524.7 617.5 L525.0 618.6 L525.3 619.8 L525.6 620.9 L525.9 622.1 L526.3 623.3 L526.6 624.4 L526.9 625.6 L527.2 626.7 L527.5 627.9 L527.8 629.0 L528.1 630.2 L528.5 631.4 L528.8 632.5 L529.1 633.7 L529.4 634.8 L529.8 636.0 L530.1 637.1 L530.4 638.3 L530.7 639.4 L531.1 640.6 L531.4 641.8 L531.7 642.9 L532.1 644.1 L532.4 645.2 L532.7 646.4 L533.1 647.5 L533.4 648.7 L533.8 649.8 L534.1 651.0 L534.4 652.1 L534.8 653.3 L535.1 654.4 L535.5 655.6 L535.8 656.7 L536.2 657.9 L536.5 659.0 L536.9 660.1 L537.2 661.3 L537.6 662.4 L538.0 663.6 L538.3 664.7 L538.7 665.9 L539.1 667.0 L539.4 668.1 L539.8 669.3 L540.2 670.4 L540.5 671.6 L540.9 672.7 L541.3 673.8 L541.7 675.0 L542.0 676.1 L542.4 677.3 L542.8 678.4 L543.2 679.5 L543.6 680.7 L544.0 681.8 L544.3 682.9 L544.7 684.1 L545.1 685.2 L545.5 686.3 L545.9 687.5 L546.3 688.6 L546.7 689.7 L547.1 690.8 L547.6 692.0 L548.0 693.1 L548.4 694.2 L548.8 695.3 L549.2 696.5 L549.6 697.6 L550.1 698.7 L550.5 699.8 L550.9 701.0 L551.3 702.1 L551.8 703.2 L552.2 704.3 L552.6 705.4 L553.1 706.5 L553.5 707.7 L554.0 708.8 L554.4 709.9 L554.9 711.0 L555.3 712.1 L555.8 713.2 L556.2 714.3 L556.7 715.4 L557.2 716.5 L557.6 717.6 L558.1 718.7 L558.6 719.8 L559.1 720.9 L559.5 722.0 L560.0 723.1 L560.5 724.2 L561.0 725.3 L561.5 726.4 L562.0 727.5 L562.5 728.6 L563.0 729.7 L563.5 730.8 L564.0 731.9 L564.5 733.0 L565.0 734.1 L565.5 735.1 L566.1 736.2 L566.6 737.3 L567.1 738.4 L567.7 739.5 L568.2 740.6 L568.7 741.6 L569.3 742.7 L569.8 743.8 L570.4 744.8 L570.9 745.9 L571.5 747.0 L572.0 748.1 L572.6 749.1 L573.2 750.2 L573.7 751.2 L574.3 752.3 L574.9 753.4 L575.5 754.4 L576.1 755.5 L576.6 756.5 L577.2 757.6 L577.8 758.6 L578.4 759.7 L579.0 760.7 L579.7 761.8 L580.3 762.8 L580.9 763.9 L581.5 764.9 L582.1 765.9 L582.8 767.0 L583.4 768.0 L584.0 769.0 L584.7 770.1 L585.3 771.1 L586.0 772.1 L586.6 773.1 L587.3 774.2 L588.0 775.2 L588.6 776.2 L589.3 777.2 L590.0 778.2 L590.7 779.2 L591.3 780.2 L592.0 781.2 L592.7 782.2 L593.4 783.2 L594.1 784.2 L594.8 785.2 L595.5 786.2 L596.3 787.1 L597.0 788.1 L597.7 789.1 L598.4 790.1 L599.2 791.0 L599.9 792.0 L600.6 792.9 L601.4 793.9 L602.1 794.8 L602.9 795.8 L603.6 796.7 L604.4 797.7 L605.2 798.6 L605.9 799.5 L606.7 800.4 L607.5 801.3 L608.3 802.3 L609.1 803.2 L609.9 804.1 L610.7 805.0 L611.5 805.9 L612.3 806.8 L613.1 807.6 L613.9 808.5 L614.7 809.4 L615.6 810.3 L616.4 811.1 L617.2 812.0 L618.1 812.8 L618.9 813.7 L619.8 814.5 L620.6 815.3 L621.5 816.2 L622.3 817.0 L623.2 817.8 L624.1 818.6 L625.0 819.4 L625.9 820.2 L626.7 821.0 L627.6 821.8 L628.5 822.6 L629.4 823.4 L630.3 824.1 L631.3 824.9 L632.2 825.6 L633.1 826.4 L634.0 827.1 L635.0 827.9 L635.9 828.6 L636.8 829.3 L637.8 830.0 L638.7 830.7 L639.7 831.4 L640.7 832.1 L641.6 832.8 L642.6 833.5 L643.6 834.1 L644.5 834.8 L645.5 835.5 L646.5 836.1 L647.5 836.7 L648.5 837.4 L649.5 838.0 L650.5 838.6 L651.6 839.2 L652.6 839.8 L653.6 840.4 L654.7 841.0 L655.7 841.6 L656.7 842.1 L657.8 842.7 L658.8 843.2 L659.9 843.8 L661.0 844.3 L662.0 844.8 L663.1 845.3 L664.2 845.9 L665.3 846.4 L666.3 846.8 L667.4 847.3 L668.5 847.8 L669.6 848.3 L670.7 848.8 L671.8 849.2 L672.9 849.7 L674.1 850.1 L675.2 850.5 L676.3 851.0 L677.4 851.4 L678.6 851.8 L679.7 852.2 L680.8 852.6 L682.0 853.0 L683.1 853.4 L684.2 853.8 L685.4 854.2 L686.5 854.6 L687.7 854.9 L688.8 855.3 L690.0 855.7 L691.2 856.0 L692.3 856.4 L693.5 856.7 L694.7 857.0 L695.8 857.4 L697.0 857.7 L698.2 858.0 L699.4 858.3 L700.5 858.6 L701.7 858.9 L702.9 859.2 L704.1 859.5 L705.3 859.8 L706.4 860.1 L707.6 860.4 L708.8 860.7 L710.0 860.9 L711.2 861.2 L712.4 861.5 L713.6 861.7 L714.8 862.0 L716.0 862.2 L717.2 862.5 L718.4 862.7 L719.5 863.0 L720.7 863.2 L721.9 863.4 L723.1 863.7 L724.3 863.9 L725.5 864.1 L726.7 864.3 L727.9 864.6 L729.1 864.8 L730.3 865.0 L731.5 865.2 L732.7 865.4 L733.9 865.6 L735.1 865.8 L736.3 866.0 L737.5 866.2 L738.7 866.4 L739.9 866.6 L741.1 866.8 L742.2 867.0 L743.4 867.1 L744.6 867.3 L745.8 867.5 L747.0 867.7 L748.2 867.9 L749.4 868.0 L750.6 868.2 L751.8 868.4 L753.0 868.5 L754.2 868.7 L755.3 868.8 L756.5 869.0 L757.7 869.2 L758.9 869.3 L760.1 869.5 L761.3 869.6 L762.5 869.8 L763.7 869.9 L764.9 870.0 L766.0 870.2 L767.2 870.3 L768.4 870.5 L769.6 870.6 L770.8 870.7 L772.0 870.8 L773.2 871.0 L774.4 871.1 L775.5 871.2 L776.7 871.4 L777.9 871.5 L779.1 871.6 L780.3 871.7 L781.5 871.8 L782.7 871.9 L783.9 872.1 L785.0 872.2 L786.2 872.3 L787.4 872.4 L788.6 872.5 L789.8 872.6 L791.0 872.7 L792.2 872.8 L793.4 872.9 L794.5 873.0 L795.7 873.1 L796.9 873.2 L798.1 873.3 L799.3 873.4 L800.5 873.5 L801.7 873.6 L802.9 873.6 L804.0 873.7 L805.2 873.8 L806.4 873.9 L807.6 874.0 L808.8 874.1 L810.0 874.2 L811.2 874.2 L812.4 874.3 L813.5 874.4 L814.7 874.5 L815.9 874.6 L817.1 874.6 L818.3 874.7 L819.5 874.8 L820.7 874.9 L821.9 874.9 L823.1 875.0 L824.3 875.1 L825.4 875.1 L826.6 875.2 L827.8 875.3 L829.0 875.4 L830.2 875.4 L831.4 875.5 L832.6 875.6 L833.8 875.6 L835.0 875.7 L836.2 875.8 L837.4 875.8 L838.6 875.9 L839.8 875.9 L840.9 876.0 L842.1 876.1 L843.3 876.1 L844.5 876.2 L845.7 876.3 L846.9 876.3 L848.1 876.4 L849.3 876.4 L850.5 876.5 L851.7 876.6 L852.9 876.6 L854.1 876.7 L855.3 876.7 L856.5 876.8 L857.7 876.9 L858.9 876.9 L860.1 877.0 L861.3 877.0 L862.5 877.1 L863.7 877.2 L864.9 877.2 L866.1 877.3 L867.3 877.3 L868.5 877.4 L869.7 877.5 L870.9 877.5 L872.2 877.6 L873.4 877.6 L874.6 877.7 L875.8 877.8 L877.0 877.8 L878.2 877.9 L879.4 878.0 L880.6 878.0 L881.8 878.1 L883.0 878.1 L884.2 878.2 L885.5 878.3 L886.7 878.3 L887.9 878.4 L889.1 878.5 L890.3 878.5 L891.5 878.6 L892.7 878.7 L894.0 878.7 L895.2 878.8 L896.4 878.9 L897.6 879.0 L898.8 879.0 L900.1 879.1 L901.3 879.2 L902.5 879.2" fill="none" stroke="#26923c" stroke-width="4.0" stroke-linejoin="round"/>
<path d="M78.4 892.0 L79.6 892.0 L80.8 891.9 L82.0 891.9 L83.2 891.8 L84.4 891.8 L85.6 891.8 L86.8 891.7 L88.0 891.7 L89.2 891.6 L90.4 891.6 L91.6 891.6 L92.8 891.5 L94.0 891.5 L95.2 891.5 L96.4 891.5 L97.7 891.4 L98.9 891.4 L100.1 891.4 L101.3 891.3 L102.5 891.3 L103.7 891.3 L104.9 891.3 L106.1 891.2 L107.3 891.2 L108.5 891.2 L109.7 891.2 L110.9 891.2 L112.1 891.2 L113.3 891.1 L114.5 891.1 L115.7 891.1 L116.9 891.1 L118.1 891.1 L119.3 891.1 L120.5 891.0 L121.7 891.0 L122.9 891.0 L124.1 891.0 L125.3 891.0 L126.5 891.0 L127.8 891.0 L129.0 891.0 L130.2 891.0 L131.4 891.0 L132.6 891.0 L133.8 891.0 L135.0 891.0 L136.2 891.0 L137.4 890.9 L138.6 890.9 L139.8 890.9 L141.0 890.9 L142.2 890.9 L143.4 890.9 L144.6 890.9 L145.8 890.9 L147.0 890.9 L148.2 890.9 L149.4 890.9 L150.6 891.0 L151.8 891.0 L153.1 891.0 L154.3 891.0 L155.5 891.0 L156.7 891.0 L157.9 891.0 L159.1 891.0 L160.3 891.0 L161.5 891.0 L162.7 891.0 L163.9 891.0 L165.1 891.0 L166.3 891.0 L167.5 891.0 L168.7 891.0 L169.9 891.0 L171.1 891.1 L172.3 891.1 L173.5 891.1 L174.8 891.1 L176.0 891.1 L177.2 891.1 L178.4 891.1 L179.6 891.1 L180.8 891.1 L182.0 891.1 L183.2 891.1 L184.4 891.2 L185.6 891.2 L186.8 891.2 L188.0 891.2 L189.2 891.2 L190.4 891.2 L191.6 891.2 L192.8 891.2 L194.0 891.2 L195.2 891.3 L196.5 891.3 L197.7 891.3 L198.9 891.3 L200.1 891.3 L201.3 891.3 L202.5 891.3 L203.7 891.3 L204.9 891.3 L206.1 891.4 L207.3 891.4 L208.5 891.4 L209.7 891.4 L210.9 891.4 L212.1 891.4 L213.3 891.4 L214.5 891.4 L215.8 891.4 L217.0 891.4 L218.2 891.5 L219.4 891.5 L220.6 891.5 L221.8 891.5 L223.0 891.5 L224.2 891.5 L225.4 891.5 L226.6 891.5 L227.8 891.5 L229.0 891.5 L230.2 891.5 L231.4 891.5 L232.6 891.6 L233.8 891.6 L235.0 891.6 L236.3 891.6 L237.5 891.6 L238.7 891.6 L239.9 891.6 L241.1 891.6 L242.3 891.6 L243.5 891.6 L244.7 891.6 L245.9 891.6 L247.1 891.6 L248.3 891.6 L249.5 891.6 L250.7 891.6 L251.9 891.6 L253.1 891.6 L254.3 891.6 L255.6 891.6 L256.8 891.6 L258.0 891.6 L259.2 891.6 L260.4 891.6 L261.6 891.6 L262.8 891.6 L264.0 891.5 L265.2 891.5 L266.4 891.5 L267.6 891.5 L268.8 891.5 L270.0 891.5 L271.2 891.5 L272.4 891.5 L273.6 891.5 L274.8 891.5 L276.1 891.4 L277.3 891.4 L278.5 891.4 L279.7 891.4 L280.9 891.4 L282.1 891.4 L283.3 891.3 L284.5 891.3 L285.7 891.3 L286.9 891.3 L288.1 891.3 L289.3 891.2 L290.5 891.2 L291.7 891.2 L292.9 891.2 L294.1 891.1 L295.3 891.1 L296.6 891.1 L297.8 891.0 L299.0 891.0 L300.2 891.0 L301.4 890.9 L302.6 890.9 L303.8 890.9 L305.0 890.8 L306.2 890.8 L307.4 890.8 L308.6 890.7 L309.8 890.7 L311.0 890.6 L312.2 890.6 L313.4 890.6 L314.6 890.5 L315.8 890.5 L317.0 890.4 L318.3 890.4 L319.5 890.3 L320.7 890.3 L321.9 890.2 L323.1 890.2 L324.3 890.1 L325.5 890.1 L326.7 890.0 L327.9 889.9 L329.1 889.9 L330.3 889.8 L331.5 889.8 L332.7 889.7 L333.9 889.6 L335.1 889.6 L336.3 889.5 L337.5 889.4 L338.7 889.4 L339.9 889.3 L341.1 889.2 L342.4 889.1 L343.6 889.1 L344.8 889.0 L346.0 888.9 L347.2 888.8 L348.4 888.7 L349.6 888.6 L350.8 888.6 L352.0 888.5 L353.2 888.4 L354.4 888.3 L355.6 888.1 L356.8 888.0 L358.0 887.9 L359.2 887.8 L360.4 887.7 L361.6 887.5 L362.8 887.4 L363.9 887.3 L365.1 887.1 L366.3 887.0 L367.5 886.8 L368.7 886.6 L369.9 886.5 L371.1 886.3 L372.2 886.1 L373.4 885.9 L374.6 885.7 L375.8 885.5 L377.0 885.2 L378.1 885.0 L379.3 884.8 L380.5 884.5 L381.6 884.3 L382.8 884.0 L383.9 883.7 L385.1 883.5 L386.3 883.2 L387.4 882.9 L388.6 882.6 L389.7 882.2 L390.9 881.9 L392.0 881.6 L393.1 881.2 L394.3 880.9 L395.4 880.5 L396.5 880.1 L397.7 879.8 L398.8 879.4 L399.9 879.0 L401.0 878.5 L402.2 878.1 L403.3 877.7 L404.4 877.2 L405.5 876.8 L406.6 876.3 L407.7 875.8 L408.8 875.3 L409.9 874.9 L411.0 874.3 L412.1 873.8 L413.2 873.3 L414.2 872.8 L415.3 872.2 L416.4 871.6 L417.5 871.1 L418.5 870.5 L419.6 869.9 L420.7 869.3 L421.4 868.8 L422.8 867.9 L424.1 867.0 L425.3 866.0 L426.6 864.9 L427.7 863.9 L428.9 862.7 L429.9 861.6 L431.0 860.3 L432.0 859.1 L432.9 857.7 L433.8 856.4 L434.1 855.9 L434.7 854.9 L435.3 853.8 L435.9 852.8 L436.5 851.8 L437.2 850.8 L437.8 849.7 L438.4 848.7 L439.0 847.7 L439.6 846.6 L440.2 845.6 L440.8 844.5 L441.3 843.5 L441.9 842.4 L442.5 841.4 L443.1 840.3 L443.7 839.3 L444.3 838.2 L444.8 837.2 L445.4 836.1 L446.0 835.1 L446.5 834.0 L447.1 832.9 L447.6 831.9 L448.2 830.8 L448.7 829.7 L449.3 828.7 L449.8 827.6 L450.4 826.5 L450.9 825.4 L451.5 824.4 L452.0 823.3 L452.5 822.2 L453.1 821.1 L453.6 820.0 L454.1 819.0 L454.6 817.9 L455.1 816.8 L455.6 815.7 L456.2 814.6 L456.7 813.5 L457.2 812.4 L457.7 811.3 L458.2 810.2 L458.7 809.1 L459.1 808.0 L459.6 806.9 L460.1 805.8 L460.6 804.7 L461.1 803.6 L461.6 802.5 L462.0 801.4 L462.5 800.3 L463.0 799.2 L463.4 798.1 L463.9 797.0 L464.3 795.8 L464.8 794.7 L465.3 793.6 L465.7 792.5 L466.1 791.4 L466.6 790.2 L467.0 789.1 L467.5 788.0 L467.9 786.9 L468.3 785.7 L468.7 784.6 L469.2 783.5 L469.6 782.4 L470.0 781.2 L470.4 780.1 L470.8 779.0 L471.2 777.8 L471.6 776.7 L472.0 775.6 L472.4 774.4 L472.8 773.3 L473.2 772.1 L473.6 771.0 L474.0 769.9 L474.4 768.7 L474.8 767.6 L475.1 766.4 L475.5 765.3 L475.9 764.1 L476.2 763.0 L476.6 761.8 L477.0 760.7 L477.3 759.5 L477.7 758.4 L478.0 757.2 L478.4 756.1 L478.7 754.9 L479.1 753.8 L479.4 752.6 L479.7 751.5 L480.1 750.3 L480.4 749.2 L480.7 748.0 L481.0 746.8 L481.3 745.7 L481.7 744.5 L482.0 743.4 L482.3 742.2 L482.6 741.0 L482.9 739.9 L483.2 738.7 L483.5 737.5 L483.8 736.4 L484.1 735.2 L484.3 734.1 L484.6 732.9 L484.9 731.7 L485.2 730.6 L485.4 729.4 L485.7 728.2 L486.0 727.1 L486.2 725.9 L486.5 724.7 L486.8 723.5 L487.0 722.4 L487.3 721.2 L487.5 720.0 L487.8 718.9 L488.0 717.7 L488.3 716.5 L488.5 715.3 L488.7 714.2 L489.0 713.0 L489.2 711.8 L489.4 710.6 L489.7 709.5 L489.9 708.3 L490.1 707.1 L490.3 705.9 L490.6 704.8 L490.8 703.6 L491.0 702.4 L491.2 701.2 L491.4 700.0 L491.6 698.9 L491.8 697.7 L492.1 696.5 L492.3 695.3 L492.5 694.1 L492.7 693.0 L492.9 691.8 L493.1 690.6 L493.3 689.4 L493.5 688.2 L493.7 687.0 L493.9 685.9 L494.1 684.7 L494.2 683.5 L494.4 682.3 L494.6 681.1 L494.8 679.9 L495.0 678.8 L495.2 677.6 L495.4 676.4 L495.6 675.2 L495.8 674.0 L495.9 672.8 L496.1 671.6 L496.3 670.5 L496.5 669.3 L496.7 668.1 L496.9 666.9 L497.0 665.7 L497.2 664.5 L497.4 663.3 L497.6 662.1 L497.8 661.0 L497.9 659.8 L498.1 658.6 L498.3 657.4 L498.5 656.2 L498.7 655.0 L498.8 653.8 L499.0 652.6 L499.2 651.4 L499.4 650.2 L499.5 649.1 L499.7 647.9 L499.9 646.7 L500.1 645.5 L500.2 644.3 L500.4 643.1 L500.6 641.9 L500.8 640.7 L500.9 639.5 L501.1 638.3 L501.3 637.2 L501.5 636.0 L501.7 634.8 L501.8 633.6 L502.0 632.4 L502.2 631.2 L502.4 630.0 L502.5 628.8 L502.7 627.6 L502.9 626.4 L503.1 625.3 L503.3 624.1 L503.4 622.9 L503.6 621.7 L503.8 620.5 L504.0 619.3 L504.2 618.1 L504.4 616.9 L504.5 615.7 L504.7 614.6 L504.9 613.4 L505.1 612.2 L505.3 611.0 L505.5 609.8 L505.7 608.6 L505.9 607.4 L506.0 606.2 L506.2 605.1 L506.4 603.9 L506.6 602.7 L506.8 601.5 L507.0 600.3 L507.2 599.1 L507.4 597.9 L507.6 596.8 L507.8 595.6 L508.0 594.4 L508.2 593.2 L508.4 592.0 L508.6 590.8 L508.8 589.6 L509.0 588.5 L509.2 587.3 L509.4 586.1 L509.6 584.9 L509.8 583.7 L510.0 582.5 L510.2 581.3 L510.4 580.2 L510.6 579.0 L510.8 577.8 L511.0 576.6 L511.2 575.4 L511.4 574.2 L511.7 573.1 L511.9 571.9 L512.1 570.7 L512.3 569.5 L512.5 568.3 L512.7 567.1 L512.9 566.0 L513.1 564.8 L513.4 563.6 L513.6 562.4 L513.8 561.2 L514.0 560.1 L514.2 558.9 L514.4 557.7 L514.7 556.5 L514.9 555.3 L515.1 554.2 L515.3 553.0 L515.6 551.8 L515.8 550.6 L516.0 549.4 L516.2 548.3 L516.5 547.1 L516.7 545.9 L516.9 544.7 L517.1 543.5 L517.4 542.4 L517.6 541.2 L517.8 540.0 L518.1 538.8 L518.3 537.7 L518.5 536.5 L518.8 535.3 L519.0 534.1 L519.3 532.9 L519.5 531.8 L519.7 530.6 L520.0 529.4 L520.2 528.2 L520.4 527.1 L520.7 525.9 L520.9 524.7 L521.2 523.5 L521.4 522.4 L521.7 521.2 L521.9 520.0 L522.2 518.8 L522.4 517.7 L522.7 516.5 L522.9 515.3 L523.2 514.1 L523.4 513.0 L523.7 511.8 L523.9 510.6 L524.2 509.4 L524.4 508.3 L524.7 507.1 L524.9 505.9 L525.2 504.7 L525.4 503.6 L525.7 502.4 L526.0 501.2 L526.2 500.1 L526.5 498.9 L526.8 497.7 L527.0 496.5 L527.3 495.4 L527.5 494.2 L527.8 493.0 L528.1 491.9 L528.3 490.7 L528.6 489.5 L528.9 488.3 L529.2 487.2 L529.4 486.0 L529.7 484.8 L530.0 483.7 L530.3 482.5 L530.5 481.3 L530.8 480.2 L531.1 479.0 L531.4 477.8 L531.6 476.7 L531.9 475.5 L532.2 474.3 L532.5 473.2 L532.8 472.0 L533.0 470.8 L533.3 469.7 L533.6 468.5 L533.9 467.3 L534.2 466.2 L534.5 465.0 L534.8 463.8 L535.1 462.7 L535.4 461.5 L535.6 460.3 L535.9 459.2 L536.2 458.0 L536.5 456.8 L536.8 455.7 L537.1 454.5 L537.4 453.3 L537.7 452.2 L538.0 451.0 L538.3 449.9 L538.6 448.7 L538.9 447.5 L539.2 446.4 L539.5 445.2 L539.9 444.0 L540.2 442.9 L540.5 441.7 L540.8 440.6 L541.1 439.4 L541.4 438.2 L541.7 437.1 L542.0 435.9 L542.3 434.8 L542.7 433.6 L543.0 432.4 L543.3 431.3 L543.6 430.1 L543.9 429.0 L544.3 427.8 L544.6 426.6 L544.9 425.5 L545.2 424.3 L545.6 423.2 L545.9 422.0 L546.2 420.9 L546.6 419.7 L546.9 418.6 L547.3 417.4 L547.6 416.3 L548.0 415.1 L548.3 414.0 L548.7 412.8 L549.1 411.7 L549.4 410.5 L549.8 409.4 L550.2 408.3 L550.6 407.1 L551.0 406.0 L551.4 404.9 L551.8 403.7 L552.2 402.6 L552.7 401.5 L553.1 400.4 L553.6 399.3 L554.0 398.2 L554.5 397.1 L554.9 396.0 L555.4 394.9 L555.9 393.8 L556.4 392.7 L556.9 391.6 L557.5 390.5 L558.0 389.4 L558.6 388.4 L559.1 387.3 L559.7 386.3 L560.4 385.2 L561.0 384.2 L561.7 383.2 L562.4 382.2 L563.1 381.2 L563.9 380.3 L564.7 379.4 L565.6 378.7 L566.6 377.9 L567.6 377.3 L568.7 376.8 L569.9 376.5 L571.1 376.5 L572.3 376.8 L573.4 377.3 L574.4 378.0 L575.3 378.7 L576.2 379.5 L576.9 380.4 L577.6 381.4 L578.3 382.4 L578.9 383.5 L579.4 384.5 L580.0 385.6 L580.6 386.7 L581.1 387.7 L581.7 388.8 L582.2 389.9 L582.7 391.0 L583.3 392.1 L583.8 393.2 L584.3 394.3 L584.8 395.3 L585.3 396.4 L585.8 397.5 L586.2 398.6 L586.7 399.8 L587.2 400.9 L587.7 402.0 L588.1 403.1 L588.6 404.2 L589.0 405.3 L589.5 406.4 L589.9 407.5 L590.3 408.7 L590.8 409.8 L591.2 410.9 L591.6 412.0 L592.0 413.1 L592.5 414.3 L592.9 415.4 L593.3 416.5 L593.7 417.7 L594.1 418.8 L594.5 419.9 L594.9 421.0 L595.3 422.2 L595.7 423.3 L596.1 424.4 L596.5 425.6 L596.9 426.7 L597.3 427.8 L597.7 429.0 L598.1 430.1 L598.5 431.2 L598.9 432.4 L599.2 433.5 L599.6 434.7 L600.0 435.8 L600.4 436.9 L600.8 438.1 L601.1 439.2 L601.5 440.4 L601.9 441.5 L602.2 442.6 L602.6 443.8 L603.0 444.9 L603.3 446.1 L603.7 447.2 L604.0 448.4 L604.4 449.5 L604.7 450.7 L605.1 451.8 L605.4 453.0 L605.8 454.1 L606.1 455.3 L606.5 456.4 L606.8 457.6 L607.2 458.7 L607.5 459.9 L607.8 461.0 L608.2 462.2 L608.5 463.3 L608.8 464.5 L609.2 465.6 L609.5 466.8 L609.8 468.0 L610.1 469.1 L610.5 470.3 L610.8 471.4 L611.1 472.6 L611.4 473.8 L611.7 474.9 L612.1 476.1 L612.4 477.2 L612.7 478.4 L613.0 479.6 L613.3 480.7 L613.6 481.9 L613.9 483.0 L614.2 484.2 L614.5 485.4 L614.8 486.5 L615.1 487.7 L615.4 488.9 L615.7 490.0 L616.0 491.2 L616.3 492.4 L616.6 493.5 L616.9 494.7 L617.2 495.9 L617.5 497.0 L617.8 498.2 L618.1 499.4 L618.4 500.5 L618.6 501.7 L618.9 502.9 L619.2 504.0 L619.5 505.2 L619.8 506.4 L620.1 507.6 L620.3 508.7 L620.6 509.9 L620.9 511.1 L621.2 512.2 L621.4 513.4 L621.7 514.6 L622.0 515.8 L622.3 516.9 L622.5 518.1 L622.8 519.3 L623.1 520.5 L623.3 521.6 L623.6 522.8 L623.9 524.0 L624.1 525.2 L624.4 526.3 L624.6 527.5 L624.9 528.7 L625.2 529.9 L625.4 531.0 L625.7 532.2 L625.9 533.4 L626.2 534.6 L626.5 535.7 L626.7 536.9 L627.0 538.1 L627.2 539.3 L627.5 540.5 L627.7 541.6 L628.0 542.8 L628.2 544.0 L628.5 545.2 L628.7 546.3 L629.0 547.5 L629.2 548.7 L629.5 549.9 L629.7 551.1 L630.0 552.2 L630.2 553.4 L630.5 554.6 L630.7 555.8 L630.9 557.0 L631.2 558.1 L631.4 559.3 L631.7 560.5 L631.9 561.7 L632.1 562.9 L632.4 564.0 L632.6 565.2 L632.9 566.4 L633.1 567.6 L633.3 568.8 L633.6 569.9 L633.8 571.1 L634.1 572.3 L634.3 573.5 L634.5 574.7 L634.8 575.8 L635.0 577.0 L635.2 578.2 L635.5 579.4 L635.7 580.6 L636.0 581.7 L636.2 582.9 L636.4 584.1 L636.7 585.3 L636.9 586.5 L637.1 587.6 L637.4 588.8 L637.6 590.0 L637.8 591.2 L638.1 592.4 L638.3 593.5 L638.5 594.7 L638.8 595.9 L639.0 597.1 L639.2 598.3 L639.5 599.4 L639.7 600.6 L639.9 601.8 L640.2 603.0 L640.4 604.1 L640.6 605.3 L640.8 606.5 L641.1 607.7 L641.3 608.9 L641.5 610.0 L641.8 611.2 L642.0 612.4 L642.2 613.6 L642.5 614.7 L642.7 615.9 L643.0 617.1 L643.2 618.3 L643.4 619.4 L643.7 620.6 L643.9 621.8 L644.1 623.0 L644.4 624.1 L644.6 625.3 L644.8 626.5 L645.1 627.7 L645.3 628.8 L645.6 630.0 L645.8 631.2 L646.1 632.4 L646.3 633.5 L646.5 634.7 L646.8 635.9 L647.0 637.0 L647.3 638.2 L647.5 639.4 L647.8 640.6 L648.0 641.7 L648.3 642.9 L648.5 644.1 L648.8 645.2 L649.0 646.4 L649.3 647.6 L649.5 648.7 L649.8 649.9 L650.1 651.1 L650.3 652.3 L650.6 653.4 L650.8 654.6 L651.1 655.8 L651.4 656.9 L651.6 658.1 L651.9 659.2 L652.2 660.4 L652.4 661.6 L652.7 662.7 L653.0 663.9 L653.3 665.1 L653.5 666.2 L653.8 667.4 L654.1 668.6 L654.4 669.7 L654.7 670.9 L654.9 672.0 L655.2 673.2 L655.5 674.4 L655.8 675.5 L656.1 676.7 L656.4 677.8 L656.7 679.0 L657.0 680.2 L657.3 681.3 L657.6 682.5 L657.9 683.6 L658.2 684.8 L658.5 685.9 L658.8 687.1 L659.1 688.2 L659.4 689.4 L659.8 690.6 L660.1 691.7 L660.4 692.9 L660.7 694.0 L661.1 695.2 L661.4 696.3 L661.7 697.5 L662.0 698.6 L662.4 699.8 L662.7 700.9 L663.1 702.1 L663.4 703.2 L663.8 704.4 L664.1 705.5 L664.5 706.6 L664.8 707.8 L665.2 708.9 L665.5 710.1 L665.9 711.2 L666.2 712.4 L666.6 713.5 L667.0 714.7 L667.4 715.8 L667.7 716.9 L668.1 718.1 L668.5 719.2 L668.9 720.4 L669.3 721.5 L669.7 722.6 L670.1 723.8 L670.5 724.9 L670.9 726.0 L671.3 727.2 L671.7 728.3 L672.1 729.4 L672.5 730.6 L672.9 731.7 L673.3 732.8 L673.7 734.0 L674.2 735.1 L674.6 736.2 L675.0 737.3 L675.5 738.5 L675.9 739.6 L676.3 740.7 L676.8 741.8 L677.2 742.9 L677.7 744.1 L678.1 745.2 L678.6 746.3 L679.0 747.4 L679.5 748.5 L680.0 749.6 L680.4 750.7 L680.9 751.9 L681.4 753.0 L681.9 754.1 L682.3 755.2 L682.8 756.3 L683.3 757.4 L683.8 758.5 L684.3 759.6 L684.8 760.7 L685.3 761.8 L685.8 762.9 L686.3 764.0 L686.8 765.1 L687.3 766.1 L687.8 767.2 L688.4 768.3 L688.9 769.4 L689.4 770.5 L690.0 771.6 L690.5 772.7 L691.0 773.7 L691.6 774.8 L692.1 775.9 L692.7 777.0 L693.2 778.0 L693.8 779.1 L694.3 780.2 L694.9 781.2 L695.5 782.3 L696.0 783.4 L696.6 784.4 L697.2 785.5 L697.8 786.5 L698.3 787.6 L698.9 788.6 L699.5 789.7 L700.1 790.7 L700.7 791.8 L701.3 792.8 L701.9 793.8 L702.5 794.9 L703.2 795.9 L703.8 797.0 L704.4 798.0 L705.0 799.0 L705.6 800.0 L706.3 801.1 L706.9 802.1 L707.5 803.1 L708.2 804.1 L708.8 805.1 L709.5 806.1 L710.1 807.1 L710.8 808.2 L711.5 809.2 L712.1 810.2 L712.8 811.2 L713.5 812.2 L714.2 813.1 L714.8 814.1 L715.5 815.1 L716.2 816.1 L716.9 817.1 L717.6 818.1 L718.3 819.0 L719.0 820.0 L719.7 821.0 L720.4 822.0 L721.2 822.9 L721.9 823.9 L722.6 824.8 L723.3 825.8 L724.1 826.8 L724.8 827.7 L725.5 828.6 L726.3 829.6 L727.0 830.5 L727.8 831.5 L728.6 832.4 L729.3 833.3 L730.1 834.2 L730.9 835.1 L731.7 836.0 L732.5 836.9 L733.3 837.8 L734.1 838.7 L734.9 839.6 L735.7 840.4 L736.5 841.3 L737.4 842.1 L738.2 843.0 L739.1 843.8 L739.9 844.7 L740.8 845.5 L741.6 846.3 L742.5 847.1 L743.4 847.9 L744.3 848.7 L745.2 849.5 L746.1 850.2 L747.0 851.0 L747.9 851.7 L748.9 852.5 L749.8 853.2 L750.8 853.9 L751.7 854.6 L752.7 855.3 L753.7 856.0 L754.7 856.7 L755.7 857.3 L756.7 858.0 L757.7 858.6 L758.7 859.2 L759.8 859.8 L760.8 860.4 L761.9 861.0 L762.9 861.6 L764.0 862.2 L765.1 862.7 L766.1 863.3 L767.2 863.8 L768.3 864.3 L769.4 864.8 L770.5 865.3 L771.6 865.8 L772.7 866.3 L773.9 866.8 L775.0 867.3 L776.1 867.7 L777.2 868.2 L778.4 868.6 L779.5 869.1 L780.7 869.5 L781.8 869.9 L782.9 870.4 L784.1 870.8 L785.2 871.2 L786.4 871.5 L787.5 871.9 L788.7 872.3 L789.8 872.7 L791.0 873.1 L792.2 873.4 L793.3 873.8 L794.5 874.1 L795.6 874.4 L796.8 874.8 L797.9 875.1 L799.1 875.4 L800.3 875.7 L801.4 876.1 L802.6 876.4 L803.8 876.7 L804.9 876.9 L806.1 877.2 L807.3 877.5 L808.4 877.8 L809.6 878.1 L810.8 878.3 L811.9 878.6 L813.1 878.8 L814.3 879.1 L815.4 879.3 L816.6 879.6 L817.8 879.8 L819.0 880.0 L820.1 880.2 L821.3 880.5 L822.5 880.7 L823.7 880.9 L824.8 881.1 L826.0 881.3 L827.2 881.5 L828.4 881.7 L829.6 881.9 L830.7 882.1 L831.9 882.2 L833.1 882.4 L834.3 882.6 L835.5 882.7 L836.6 882.9 L837.8 883.1 L839.0 883.2 L840.2 883.4 L841.4 883.5 L842.6 883.7 L843.8 883.8 L844.9 884.0 L846.1 884.1 L847.3 884.2 L848.5 884.4 L849.7 884.5 L850.9 884.6 L852.1 884.7 L853.3 884.9 L854.5 885.0 L855.7 885.1 L856.9 885.2 L858.0 885.3 L859.2 885.4 L860.4 885.5 L861.6 885.6 L862.8 885.7 L864.0 885.8 L865.2 885.9 L866.4 886.0 L867.6 886.1 L868.8 886.2 L870.0 886.3 L871.2 886.4 L872.4 886.4 L873.6 886.5 L874.8 886.6 L876.0 886.7 L877.2 886.8 L878.4 886.8 L879.6 886.9 L880.8 887.0 L882.0 887.1 L883.2 887.1 L884.4 887.2 L885.6 887.3 L886.8 887.4 L888.0 887.4 L889.2 887.5 L890.4 887.6 L891.6 887.6 L892.8 887.7 L894.1 887.8 L895.3 887.8 L896.5 887.9 L897.7 888.0 L898.9 888.0 L900.1 888.1 L901.3 888.2 L902.5 888.2" fill="none" stroke="#7dbd19" stroke-width="4.0" stroke-linejoin="round"/>
<path d="M78.4 891.6 L79.6 891.6 L80.8 891.6 L82.0 891.7 L83.2 891.7 L84.4 891.7 L85.6 891.7 L86.9 891.7 L88.1 891.8 L89.3 891.8 L90.5 891.8 L91.7 891.8 L92.9 891.8 L94.1 891.9 L95.3 891.9 L96.5 891.9 L97.7 891.9 L98.9 891.9 L100.1 891.9 L101.3 891.9 L102.5 892.0 L103.8 892.0 L105.0 892.0 L106.2 892.0 L107.4 892.0 L108.6 892.0 L109.8 892.0 L111.0 892.0 L112.2 892.0 L113.4 892.1 L114.6 892.1 L115.8 892.1 L117.0 892.1 L118.2 892.1 L119.4 892.1 L120.6 892.1 L121.8 892.1 L123.1 892.1 L124.3 892.1 L125.5 892.1 L126.7 892.1 L127.9 892.1 L129.1 892.2 L130.3 892.2 L131.5 892.2 L132.7 892.2 L133.9 892.2 L135.1 892.2 L136.3 892.2 L137.5 892.2 L138.7 892.2 L139.9 892.2 L141.1 892.2 L142.3 892.2 L143.5 892.2 L144.7 892.2 L145.9 892.2 L147.2 892.2 L148.4 892.2 L149.6 892.2 L150.8 892.2 L152.0 892.2 L153.2 892.2 L154.4 892.2 L155.6 892.2 L156.8 892.2 L158.0 892.2 L159.2 892.2 L160.4 892.2 L161.6 892.2 L162.8 892.2 L164.0 892.2 L165.2 892.2 L166.4 892.2 L167.6 892.2 L168.8 892.2 L170.0 892.2 L171.2 892.2 L172.4 892.2 L173.6 892.2 L174.8 892.2 L176.0 892.1 L177.2 892.1 L178.5 892.1 L179.7 892.1 L180.9 892.1 L182.1 892.1 L183.3 892.1 L184.5 892.1 L185.7 892.1 L186.9 892.1 L188.1 892.1 L189.3 892.1 L190.5 892.1 L191.7 892.1 L192.9 892.1 L194.1 892.1 L195.3 892.1 L196.5 892.1 L197.7 892.1 L198.9 892.1 L200.1 892.1 L201.3 892.0 L202.5 892.0 L203.7 892.0 L204.9 892.0 L206.1 892.0 L207.3 892.0 L208.5 892.0 L209.7 892.0 L210.9 892.0 L212.1 892.0 L213.3 892.0 L214.5 892.0 L215.7 892.0 L217.0 892.0 L218.2 892.0 L219.4 892.0 L220.6 892.0 L221.8 891.9 L223.0 891.9 L224.2 891.9 L225.4 891.9 L226.6 891.9 L227.8 891.9 L229.0 891.9 L230.2 891.9 L231.4 891.9 L232.6 891.9 L233.8 891.9 L235.0 891.9 L236.2 891.9 L237.4 891.9 L238.6 891.9 L239.8 891.9 L241.0 891.9 L242.2 891.9 L243.4 891.9 L244.6 891.9 L245.8 891.9 L247.0 891.9 L248.2 891.8 L249.4 891.8 L250.6 891.8 L251.8 891.8 L253.0 891.8 L254.2 891.8 L255.4 891.8 L256.6 891.8 L257.8 891.8 L259.0 891.8 L260.2 891.8 L261.5 891.8 L262.7 891.8 L263.9 891.8 L265.1 891.8 L266.3 891.8 L267.5 891.8 L268.7 891.8 L269.9 891.8 L271.1 891.8 L272.3 891.8 L273.5 891.8 L274.7 891.8 L275.9 891.8 L277.1 891.8 L278.3 891.8 L279.5 891.8 L280.7 891.8 L281.9 891.8 L283.1 891.8 L284.3 891.8 L285.5 891.8 L286.7 891.8 L287.9 891.8 L289.1 891.9 L290.3 891.9 L291.5 891.9 L292.7 891.9 L293.9 891.9 L295.1 891.9 L296.3 891.9 L297.5 891.9 L298.7 891.9 L300.0 891.9 L301.2 891.9 L302.4 891.9 L303.6 891.9 L304.8 891.9 L306.0 892.0 L307.2 892.0 L308.4 892.0 L309.6 892.0 L310.8 892.0 L312.0 892.0 L313.2 892.0 L314.4 892.0 L315.6 892.0 L316.8 892.1 L318.0 892.1 L319.2 892.1 L320.4 892.1 L321.6 892.1 L322.8 892.1 L324.0 892.1 L325.2 892.2 L326.4 892.2 L327.6 892.2 L328.8 892.2 L330.1 892.2 L331.3 892.2 L332.5 892.3 L333.7 892.3 L334.9 892.3 L336.1 892.3 L337.3 892.3 L338.5 892.4 L339.7 892.4 L340.9 892.4 L342.1 892.4 L343.3 892.5 L344.5 892.5 L345.7 892.5 L346.9 892.5 L348.1 892.5 L349.3 892.6 L350.5 892.6 L351.7 892.6 L352.9 892.7 L354.2 892.7 L355.4 892.7 L356.6 892.7 L357.8 892.8 L359.0 892.8 L360.2 892.8 L361.4 892.9 L362.6 892.9 L363.8 892.9 L365.0 893.0 L366.2 893.0 L367.4 893.0 L368.6 893.1 L369.8 893.1 L371.0 893.1 L372.2 893.2 L373.5 893.2 L374.7 893.3 L375.9 893.3 L377.1 893.3 L378.3 893.4 L379.5 893.4 L380.7 893.5 L381.9 893.5 L383.1 893.5 L384.3 893.6 L385.5 893.6 L386.7 893.7 L387.9 893.7 L389.1 893.8 L390.4 893.8 L391.6 893.9 L392.8 893.9 L394.0 893.9 L395.2 894.0 L396.4 894.0 L397.6 894.1 L398.8 894.1 L400.0 894.2 L401.2 894.2 L402.4 894.3 L403.6 894.3 L404.8 894.4 L406.1 894.4 L407.3 894.4 L408.5 894.5 L409.7 894.5 L410.9 894.6 L412.1 894.6 L413.3 894.7 L414.5 894.7 L415.7 894.8 L416.9 894.8 L418.1 894.9 L419.3 894.9 L420.6 894.9 L421.8 895.0 L423.0 895.0 L424.2 895.1 L425.4 895.1 L426.6 895.1 L427.8 895.2 L429.0 895.2 L430.2 895.3 L431.4 895.3 L432.6 895.3 L433.8 895.4 L435.0 895.4 L436.2 895.4 L437.5 895.5 L438.7 895.5 L439.9 895.5 L441.1 895.6 L442.3 895.6 L443.5 895.6 L444.7 895.6 L445.9 895.7 L447.1 895.7 L448.3 895.7 L449.5 895.7 L450.7 895.8 L451.9 895.8 L453.1 895.8 L454.3 895.8 L455.6 895.8 L456.8 895.9 L458.0 895.9 L459.2 895.9 L460.4 895.9 L461.6 895.9 L462.8 895.9 L464.0 895.9 L465.2 895.9 L466.4 895.9 L467.6 895.9 L468.8 895.9 L470.0 895.9 L471.2 895.9 L472.4 895.9 L473.6 895.9 L474.8 895.9 L476.0 895.9 L477.2 895.9 L478.4 895.9 L479.6 895.8 L480.9 895.8 L482.1 895.8 L483.3 895.8 L484.5 895.8 L485.7 895.7 L486.9 895.7 L488.1 895.7 L489.3 895.6 L490.5 895.6 L491.7 895.6 L492.9 895.5 L494.1 895.5 L495.3 895.4 L496.5 895.4 L497.7 895.3 L498.9 895.3 L500.1 895.2 L501.3 895.2 L502.5 895.1 L503.7 895.1 L504.9 895.0 L506.1 894.9 L507.3 894.9 L508.5 894.8 L509.7 894.7 L510.9 894.6 L512.1 894.6 L513.3 894.5 L514.5 894.4 L515.7 894.3 L516.9 894.2 L518.1 894.1 L519.3 894.0 L520.5 893.9 L521.6 893.8 L522.8 893.7 L524.0 893.6 L525.2 893.5 L526.4 893.4 L527.6 893.3 L528.8 893.1 L530.0 893.0 L531.2 892.9 L532.4 892.8 L533.6 892.6 L534.8 892.5 L536.0 892.3 L537.2 892.2 L538.4 892.0 L539.6 891.9 L540.7 891.7 L541.9 891.6 L543.1 891.4 L544.3 891.2 L545.5 891.0 L546.7 890.8 L547.9 890.6 L549.0 890.4 L550.2 890.2 L551.4 890.0 L552.6 889.8 L553.7 889.6 L554.9 889.3 L556.1 889.1 L557.2 888.8 L558.4 888.6 L559.6 888.3 L560.7 888.0 L561.9 887.7 L563.1 887.4 L564.2 887.1 L565.4 886.8 L566.5 886.5 L567.7 886.1 L568.8 885.8 L569.9 885.4 L571.1 885.1 L572.2 884.7 L573.3 884.3 L574.5 883.9 L575.6 883.5 L576.7 883.1 L577.8 882.6 L578.9 882.2 L580.1 881.7 L581.2 881.3 L582.3 880.8 L583.4 880.3 L584.5 879.8 L585.6 879.3 L586.6 878.7 L587.7 878.2 L588.8 877.7 L589.9 877.1 L591.0 876.6 L592.0 876.0 L593.1 875.4 L594.2 874.8 L595.3 874.3 L596.3 873.7 L597.4 873.1 L598.5 872.5 L599.5 871.9 L600.6 871.3 L601.6 870.7 L602.2 870.4 L603.6 869.6 L605.0 868.7 L606.3 867.8 L607.6 866.8 L608.8 865.7 L609.9 864.7 L611.0 863.5 L612.1 862.3 L613.1 861.1 L614.1 859.8 L615.0 858.4 L615.3 858.0 L615.9 857.0 L616.5 856.0 L617.2 855.0 L617.8 854.0 L618.4 853.0 L619.0 851.9 L619.6 850.9 L620.2 849.9 L620.9 848.9 L621.5 847.8 L622.1 846.8 L622.7 845.8 L623.3 844.7 L623.9 843.7 L624.5 842.6 L625.1 841.6 L625.6 840.5 L626.2 839.5 L626.8 838.4 L627.4 837.4 L628.0 836.3 L628.5 835.3 L629.1 834.2 L629.7 833.1 L630.2 832.1 L630.8 831.0 L631.3 829.9 L631.9 828.9 L632.5 827.8 L633.0 826.7 L633.5 825.6 L634.1 824.6 L634.6 823.5 L635.2 822.4 L635.7 821.3 L636.2 820.2 L636.7 819.1 L637.3 818.0 L637.8 817.0 L638.3 815.9 L638.8 814.8 L639.3 813.7 L639.8 812.6 L640.3 811.5 L640.8 810.4 L641.3 809.3 L641.8 808.2 L642.3 807.1 L642.8 805.9 L643.3 804.8 L643.8 803.7 L644.2 802.6 L644.7 801.5 L645.2 800.4 L645.6 799.3 L646.1 798.2 L646.6 797.0 L647.0 795.9 L647.5 794.8 L647.9 793.7 L648.4 792.5 L648.8 791.4 L649.3 790.3 L649.7 789.2 L650.1 788.0 L650.5 786.9 L651.0 785.8 L651.4 784.6 L651.8 783.5 L652.2 782.4 L652.6 781.2 L653.0 780.1 L653.4 779.0 L653.8 777.8 L654.2 776.7 L654.6 775.6 L655.0 774.4 L655.4 773.3 L655.8 772.1 L656.2 771.0 L656.5 769.8 L656.9 768.7 L657.3 767.6 L657.6 766.4 L658.0 765.3 L658.4 764.1 L658.7 763.0 L659.1 761.8 L659.4 760.7 L659.7 759.5 L660.1 758.4 L660.4 757.2 L660.8 756.1 L661.1 754.9 L661.4 753.8 L661.7 752.6 L662.1 751.4 L662.4 750.3 L662.7 749.1 L663.0 748.0 L663.3 746.8 L663.6 745.7 L663.9 744.5 L664.2 743.3 L664.5 742.2 L664.8 741.0 L665.1 739.9 L665.4 738.7 L665.7 737.5 L666.0 736.4 L666.3 735.2 L666.6 734.0 L666.8 732.9 L667.1 731.7 L667.4 730.5 L667.7 729.4 L667.9 728.2 L668.2 727.0 L668.5 725.9 L668.7 724.7 L669.0 723.5 L669.2 722.4 L669.5 721.2 L669.7 720.0 L670.0 718.8 L670.2 717.7 L670.5 716.5 L670.7 715.3 L671.0 714.2 L671.2 713.0 L671.5 711.8 L671.7 710.6 L671.9 709.5 L672.2 708.3 L672.4 707.1 L672.6 705.9 L672.9 704.7 L673.1 703.6 L673.3 702.4 L673.5 701.2 L673.8 700.0 L674.0 698.9 L674.2 697.7 L674.4 696.5 L674.6 695.3 L674.8 694.1 L675.1 693.0 L675.3 691.8 L675.5 690.6 L675.7 689.4 L675.9 688.2 L676.1 687.1 L676.3 685.9 L676.5 684.7 L676.7 683.5 L676.9 682.3 L677.1 681.1 L677.3 680.0 L677.5 678.8 L677.7 677.6 L677.9 676.4 L678.1 675.2 L678.3 674.0 L678.5 672.8 L678.7 671.7 L678.9 670.5 L679.1 669.3 L679.3 668.1 L679.5 666.9 L679.7 665.7 L679.9 664.5 L680.1 663.4 L680.2 662.2 L680.4 661.0 L680.6 659.8 L680.8 658.6 L681.0 657.4 L681.2 656.2 L681.4 655.1 L681.6 653.9 L681.7 652.7 L681.9 651.5 L682.1 650.3 L682.3 649.1 L682.5 647.9 L682.7 646.7 L682.9 645.6 L683.1 644.4 L683.2 643.2 L683.4 642.0 L683.6 640.8 L683.8 639.6 L684.0 638.4 L684.2 637.2 L684.4 636.0 L684.5 634.9 L684.7 633.7 L684.9 632.5 L685.1 631.3 L685.3 630.1 L685.5 628.9 L685.7 627.7 L685.9 626.5 L686.0 625.4 L686.2 624.2 L686.4 623.0 L686.6 621.8 L686.8 620.6 L687.0 619.4 L687.2 618.2 L687.4 617.0 L687.6 615.9 L687.8 614.7 L687.9 613.5 L688.1 612.3 L688.3 611.1 L688.5 609.9 L688.7 608.7 L688.9 607.5 L689.1 606.4 L689.3 605.2 L689.5 604.0 L689.7 602.8 L689.9 601.6 L690.1 600.4 L690.3 599.2 L690.5 598.1 L690.7 596.9 L690.9 595.7 L691.1 594.5 L691.3 593.3 L691.5 592.1 L691.7 590.9 L691.8 589.8 L692.0 588.6 L692.2 587.4 L692.4 586.2 L692.6 585.0 L692.9 583.8 L693.1 582.6 L693.3 581.5 L693.5 580.3 L693.7 579.1 L693.9 577.9 L694.1 576.7 L694.3 575.5 L694.5 574.3 L694.7 573.2 L694.9 572.0 L695.1 570.8 L695.3 569.6 L695.5 568.4 L695.7 567.2 L695.9 566.1 L696.1 564.9 L696.4 563.7 L696.6 562.5 L696.8 561.3 L697.0 560.1 L697.2 559.0 L697.4 557.8 L697.6 556.6 L697.8 555.4 L698.1 554.2 L698.3 553.0 L698.5 551.9 L698.7 550.7 L698.9 549.5 L699.1 548.3 L699.4 547.1 L699.6 545.9 L699.8 544.8 L700.0 543.6 L700.3 542.4 L700.5 541.2 L700.7 540.0 L700.9 538.9 L701.2 537.7 L701.4 536.5 L701.6 535.3 L701.8 534.1 L702.1 533.0 L702.3 531.8 L702.5 530.6 L702.8 529.4 L703.0 528.2 L703.2 527.1 L703.5 525.9 L703.7 524.7 L703.9 523.5 L704.2 522.4 L704.4 521.2 L704.6 520.0 L704.9 518.8 L705.1 517.6 L705.4 516.5 L705.6 515.3 L705.8 514.1 L706.1 512.9 L706.3 511.8 L706.6 510.6 L706.8 509.4 L707.1 508.2 L707.3 507.1 L707.6 505.9 L707.8 504.7 L708.1 503.5 L708.3 502.4 L708.6 501.2 L708.8 500.0 L709.1 498.8 L709.3 497.7 L709.6 496.5 L709.9 495.3 L710.1 494.2 L710.4 493.0 L710.6 491.8 L710.9 490.6 L711.2 489.5 L711.4 488.3 L711.7 487.1 L712.0 486.0 L712.2 484.8 L712.5 483.6 L712.8 482.4 L713.1 481.3 L713.3 480.1 L713.6 478.9 L713.9 477.8 L714.1 476.6 L714.4 475.4 L714.7 474.3 L715.0 473.1 L715.3 471.9 L715.5 470.8 L715.8 469.6 L716.1 468.4 L716.4 467.3 L716.7 466.1 L717.0 464.9 L717.3 463.8 L717.6 462.6 L717.8 461.4 L718.1 460.3 L718.4 459.1 L718.7 457.9 L719.0 456.8 L719.3 455.6 L719.6 454.4 L719.9 453.3 L720.2 452.1 L720.5 451.0 L720.8 449.8 L721.1 448.6 L721.5 447.5 L721.8 446.3 L722.1 445.2 L722.4 444.0 L722.7 442.8 L723.0 441.7 L723.3 440.5 L723.6 439.4 L724.0 438.2 L724.3 437.0 L724.6 435.9 L724.9 434.7 L725.3 433.6 L725.6 432.4 L725.9 431.3 L726.3 430.1 L726.6 428.9 L726.9 427.8 L727.3 426.6 L727.6 425.5 L728.0 424.3 L728.3 423.2 L728.7 422.1 L729.0 420.9 L729.4 419.8 L729.8 418.6 L730.2 417.5 L730.5 416.3 L730.9 415.2 L731.3 414.1 L731.7 412.9 L732.1 411.8 L732.5 410.7 L732.9 409.5 L733.3 408.4 L733.7 407.3 L734.2 406.1 L734.6 405.0 L735.0 403.9 L735.5 402.8 L735.9 401.7 L736.4 400.5 L736.8 399.4 L737.3 398.3 L737.8 397.2 L738.3 396.1 L738.8 395.0 L739.3 394.0 L739.8 392.9 L740.4 391.8 L740.9 390.8 L741.5 389.7 L742.1 388.7 L742.7 387.6 L743.3 386.6 L744.0 385.6 L744.7 384.6 L745.4 383.6 L746.1 382.7 L746.9 381.8 L747.8 380.9 L748.8 380.2 L749.9 379.6 L751.0 379.2 L752.2 379.1 L753.4 379.2 L754.5 379.6 L755.6 380.1 L756.6 380.8 L757.5 381.6 L758.3 382.4 L759.1 383.4 L759.8 384.4 L760.5 385.4 L761.1 386.4 L761.8 387.4 L762.4 388.5 L763.0 389.5 L763.6 390.6 L764.2 391.6 L764.8 392.7 L765.3 393.7 L765.9 394.8 L766.4 395.8 L766.9 396.9 L767.5 398.0 L768.0 399.1 L768.5 400.2 L769.0 401.2 L769.5 402.3 L770.0 403.4 L770.4 404.5 L770.9 405.6 L771.4 406.8 L771.8 407.9 L772.3 409.0 L772.7 410.1 L773.2 411.2 L773.6 412.3 L774.0 413.5 L774.5 414.6 L774.9 415.7 L775.3 416.8 L775.7 418.0 L776.1 419.1 L776.5 420.2 L776.9 421.4 L777.3 422.5 L777.7 423.6 L778.1 424.8 L778.5 425.9 L778.9 427.1 L779.3 428.2 L779.6 429.3 L780.0 430.5 L780.4 431.6 L780.8 432.8 L781.1 433.9 L781.5 435.1 L781.9 436.2 L782.3 437.3 L782.6 438.5 L783.0 439.6 L783.3 440.8 L783.7 441.9 L784.1 443.1 L784.4 444.2 L784.8 445.4 L785.1 446.5 L785.5 447.7 L785.8 448.8 L786.1 450.0 L786.5 451.1 L786.8 452.3 L787.2 453.4 L787.5 454.6 L787.8 455.7 L788.2 456.9 L788.5 458.0 L788.8 459.2 L789.2 460.3 L789.5 461.5 L789.8 462.7 L790.1 463.8 L790.5 465.0 L790.8 466.1 L791.1 467.3 L791.4 468.4 L791.7 469.6 L792.1 470.8 L792.4 471.9 L792.7 473.1 L793.0 474.2 L793.3 475.4 L793.6 476.5 L793.9 477.7 L794.2 478.9 L794.5 480.0 L794.8 481.2 L795.1 482.3 L795.4 483.5 L795.7 484.7 L796.0 485.8 L796.3 487.0 L796.6 488.2 L796.9 489.3 L797.2 490.5 L797.5 491.6 L797.8 492.8 L798.1 494.0 L798.4 495.1 L798.7 496.3 L799.0 497.5 L799.3 498.6 L799.5 499.8 L799.8 501.0 L800.1 502.1 L800.4 503.3 L800.7 504.5 L800.9 505.6 L801.2 506.8 L801.5 508.0 L801.8 509.1 L802.1 510.3 L802.3 511.5 L802.6 512.6 L802.9 513.8 L803.1 515.0 L803.4 516.1 L803.7 517.3 L804.0 518.5 L804.2 519.7 L804.5 520.8 L804.8 522.0 L805.0 523.2 L805.3 524.3 L805.6 525.5 L805.8 526.7 L806.1 527.8 L806.3 529.0 L806.6 530.2 L806.9 531.4 L807.1 532.5 L807.4 533.7 L807.6 534.9 L807.9 536.1 L808.2 537.2 L808.4 538.4 L808.7 539.6 L808.9 540.7 L809.2 541.9 L809.4 543.1 L809.7 544.3 L809.9 545.4 L810.2 546.6 L810.4 547.8 L810.7 549.0 L810.9 550.1 L811.2 551.3 L811.4 552.5 L811.7 553.7 L811.9 554.8 L812.2 556.0 L812.4 557.2 L812.7 558.4 L812.9 559.5 L813.2 560.7 L813.4 561.9 L813.6 563.1 L813.9 564.2 L814.1 565.4 L814.4 566.6 L814.6 567.8 L814.9 569.0 L815.1 570.1 L815.3 571.3 L815.6 572.5 L815.8 573.7 L816.1 574.8 L816.3 576.0 L816.6 577.2 L816.8 578.4 L817.0 579.6 L817.3 580.7 L817.5 581.9 L817.7 583.1 L818.0 584.3 L818.2 585.4 L818.5 586.6 L818.7 587.8 L818.9 589.0 L819.2 590.2 L819.4 591.3 L819.7 592.5 L819.9 593.7 L820.1 594.9 L820.4 596.1 L820.6 597.2 L820.8 598.4 L821.1 599.6 L821.3 600.8 L821.6 601.9 L821.8 603.1 L822.0 604.3 L822.3 605.5 L822.5 606.7 L822.8 607.8 L823.0 609.0 L823.2 610.2 L823.5 611.4 L823.7 612.6 L823.9 613.7 L824.2 614.9 L824.4 616.1 L824.7 617.3 L824.9 618.5 L825.1 619.6 L825.4 620.8 L825.6 622.0 L825.9 623.2 L826.1 624.3 L826.3 625.5 L826.6 626.7 L826.8 627.9 L827.1 629.1 L827.3 630.2 L827.5 631.4 L827.8 632.6 L828.0 633.8 L828.3 635.0 L828.5 636.1 L828.8 637.3 L829.0 638.5 L829.2 639.7 L829.5 640.8 L829.7 642.0 L830.0 643.2 L830.2 644.4 L830.5 645.6 L830.7 646.7 L831.0 647.9 L831.2 649.1 L831.5 650.3 L831.7 651.5 L832.0 652.6 L832.2 653.8 L832.5 655.0 L832.7 656.2 L833.0 657.3 L833.2 658.5 L833.5 659.7 L833.7 660.9 L834.0 662.0 L834.2 663.2 L834.5 664.4 L834.8 665.6 L835.0 666.8 L835.3 667.9 L835.5 669.1 L835.8 670.3 L836.0 671.5 L836.3 672.6 L836.6 673.8 L836.8 675.0 L837.1 676.2 L837.4 677.3 L837.6 678.5 L837.9 679.7 L838.2 680.9 L838.4 682.0 L838.7 683.2 L839.0 684.4 L839.2 685.6 L839.5 686.7 L839.8 687.9 L840.0 689.1 L840.3 690.3 L840.6 691.4 L840.9 692.6 L841.1 693.8 L841.4 694.9 L841.7 696.1 L842.0 697.3 L842.3 698.5 L842.5 699.6 L842.8 700.8 L843.1 702.0 L843.4 703.1 L843.7 704.3 L844.0 705.5 L844.3 706.7 L844.5 707.8 L844.8 709.0 L845.1 710.2 L845.4 711.3 L845.7 712.5 L846.0 713.7 L846.3 714.8 L846.6 716.0 L846.9 717.2 L847.2 718.3 L847.5 719.5 L847.8 720.7 L848.1 721.8 L848.4 723.0 L848.7 724.2 L849.0 725.3 L849.3 726.5 L849.7 727.7 L850.0 728.8 L850.3 730.0 L850.6 731.2 L850.9 732.3 L851.3 733.5 L851.6 734.6 L851.9 735.8 L852.2 737.0 L852.6 738.1 L852.9 739.3 L853.2 740.4 L853.6 741.6 L853.9 742.7 L854.3 743.9 L854.6 745.0 L855.0 746.2 L855.3 747.3 L855.7 748.5 L856.0 749.6 L856.4 750.8 L856.8 751.9 L857.1 753.1 L857.5 754.2 L857.9 755.4 L858.2 756.5 L858.6 757.6 L859.0 758.8 L859.4 759.9 L859.8 761.0 L860.2 762.2 L860.6 763.3 L861.0 764.4 L861.4 765.6 L861.8 766.7 L862.2 767.8 L862.6 768.9 L863.0 770.1 L863.4 771.2 L863.9 772.3 L864.3 773.4 L864.7 774.5 L865.2 775.6 L865.6 776.7 L866.0 777.8 L866.5 779.0 L867.0 780.1 L867.4 781.2 L867.9 782.3 L868.3 783.4 L868.8 784.5 L869.3 785.5 L869.8 786.6 L870.2 787.7 L870.7 788.8 L871.2 789.9 L871.7 791.0 L872.2 792.1 L872.7 793.1 L873.3 794.2 L873.8 795.3 L874.3 796.4 L874.8 797.4 L875.4 798.5 L875.9 799.6 L876.4 800.6 L877.0 801.7 L877.5 802.7 L878.1 803.8 L878.7 804.8 L879.2 805.9 L879.8 806.9 L880.4 808.0 L881.0 809.0 L881.6 810.0 L882.2 811.1 L882.8 812.1 L883.4 813.1 L884.0 814.2 L884.6 815.2 L885.3 816.2 L885.9 817.2 L886.5 818.2 L887.2 819.2 L887.8 820.3 L888.5 821.3 L889.2 822.3 L889.8 823.3 L890.5 824.2 L891.2 825.2 L891.9 826.2 L892.6 827.2 L893.3 828.2 L894.0 829.2 L894.7 830.1 L895.4 831.1 L896.2 832.1 L896.9 833.0 L897.7 834.0 L898.4 835.0 L899.2 835.9 L899.9 836.9 L900.7 837.8 L901.5 838.8" fill="none" stroke="#f04e1b" stroke-width="4.0" stroke-linejoin="round"/>
<path d="M78.4 891.3 L79.6 891.2 L80.8 891.2 L82.0 891.1 L83.2 891.1 L84.4 891.0 L85.6 891.0 L86.8 890.9 L88.0 890.9 L89.2 890.8 L90.4 890.8 L91.6 890.8 L92.8 890.7 L94.0 890.7 L95.2 890.6 L96.4 890.6 L97.6 890.6 L98.8 890.5 L100.1 890.5 L101.3 890.4 L102.5 890.4 L103.7 890.4 L104.9 890.3 L106.1 890.3 L107.3 890.2 L108.5 890.2 L109.7 890.2 L110.9 890.1 L112.1 890.1 L113.3 890.1 L114.5 890.0 L115.7 890.0 L116.9 890.0 L118.1 889.9 L119.3 889.9 L120.5 889.9 L121.7 889.8 L122.9 889.8 L124.1 889.8 L125.3 889.8 L126.5 889.7 L127.7 889.7 L128.9 889.7 L130.1 889.6 L131.3 889.6 L132.5 889.6 L133.7 889.5 L134.9 889.5 L136.2 889.5 L137.4 889.5 L138.6 889.4 L139.8 889.4 L141.0 889.4 L142.2 889.4 L143.4 889.3 L144.6 889.3 L145.8 889.3 L147.0 889.3 L148.2 889.2 L149.4 889.2 L150.6 889.2 L151.8 889.2 L153.0 889.2 L154.2 889.1 L155.4 889.1 L156.6 889.1 L157.8 889.1 L159.0 889.1 L160.2 889.0 L161.4 889.0 L162.6 889.0 L163.8 889.0 L165.0 889.0 L166.3 888.9 L167.5 888.9 L168.7 888.9 L169.9 888.9 L171.1 888.9 L172.3 888.9 L173.5 888.8 L174.7 888.8 L175.9 888.8 L177.1 888.8 L178.3 888.8 L179.5 888.8 L180.7 888.7 L181.9 888.7 L183.1 888.7 L184.3 888.7 L185.5 888.7 L186.7 888.7 L187.9 888.7 L189.1 888.7 L190.3 888.6 L191.5 888.6 L192.8 888.6 L194.0 888.6 L195.2 888.6 L196.4 888.6 L197.6 888.6 L198.8 888.6 L200.0 888.6 L201.2 888.5 L202.4 888.5 L203.6 888.5 L204.8 888.5 L206.0 888.5 L207.2 888.5 L208.4 888.5 L209.6 888.5 L210.8 888.5 L212.0 888.5 L213.2 888.5 L214.4 888.4 L215.6 888.4 L216.8 888.4 L218.1 888.4 L219.3 888.4 L220.5 888.4 L221.7 888.4 L222.9 888.4 L224.1 888.4 L225.3 888.4 L226.5 888.4 L227.7 888.4 L228.9 888.4 L230.1 888.4 L231.3 888.4 L232.5 888.4 L233.7 888.3 L234.9 888.3 L236.1 888.3 L237.3 888.3 L238.5 888.3 L239.7 888.3 L241.0 888.3 L242.2 888.3 L243.4 888.3 L244.6 888.3 L245.8 888.3 L247.0 888.3 L248.2 888.3 L249.4 888.3 L250.6 888.3 L251.8 888.3 L253.0 888.3 L254.2 888.3 L255.4 888.3 L256.6 888.3 L257.8 888.3 L259.0 888.3 L260.2 888.3 L261.4 888.3 L262.6 888.3 L263.9 888.3 L265.1 888.3 L266.3 888.3 L267.5 888.3 L268.7 888.3 L269.9 888.3 L271.1 888.3 L272.3 888.3 L273.5 888.3 L274.7 888.3 L275.9 888.3 L277.1 888.3 L278.3 888.3 L279.5 888.3 L280.7 888.3 L281.9 888.3 L283.1 888.3 L284.3 888.3 L285.6 888.3 L286.8 888.3 L288.0 888.3 L289.2 888.3 L290.4 888.3 L291.6 888.3 L292.8 888.3 L294.0 888.3 L295.2 888.3 L296.4 888.3 L297.6 888.3 L298.8 888.3 L300.0 888.3 L301.2 888.3 L302.4 888.3 L303.6 888.3 L304.8 888.3 L306.0 888.3 L307.3 888.3 L308.5 888.3 L309.7 888.3 L310.9 888.3 L312.1 888.3 L313.3 888.3 L314.5 888.3 L315.7 888.3 L316.9 888.3 L318.1 888.3 L319.3 888.3 L320.5 888.3 L321.7 888.3 L322.9 888.3 L324.1 888.3 L325.3 888.3 L326.5 888.3 L327.7 888.3 L329.0 888.3 L330.2 888.3 L331.4 888.3 L332.6 888.3 L333.8 888.3 L335.0 888.3 L336.2 888.3 L337.4 888.3 L338.6 888.3 L339.8 888.3 L341.0 888.3 L342.2 888.3 L343.4 888.3 L344.6 888.3 L345.8 888.3 L347.0 888.3 L348.2 888.3 L349.4 888.3 L350.7 888.3 L351.9 888.3 L353.1 888.3 L354.3 888.3 L355.5 888.3 L356.7 888.3 L357.9 888.3 L359.1 888.3 L360.3 888.3 L361.5 888.3 L362.7 888.3 L363.9 888.3 L365.1 888.3 L366.3 888.3 L367.5 888.3 L368.7 888.3 L369.9 888.3 L371.2 888.3 L372.4 888.3 L373.6 888.3 L374.8 888.3 L376.0 888.3 L377.2 888.3 L378.4 888.3 L379.6 888.3 L380.8 888.3 L382.0 888.3 L383.2 888.3 L384.4 888.3 L385.6 888.3 L386.8 888.3 L388.0 888.3 L389.2 888.3 L390.4 888.3 L391.6 888.3 L392.9 888.3 L394.1 888.3 L395.3 888.3 L396.5 888.3 L397.7 888.3 L398.9 888.3 L400.1 888.3 L401.3 888.3 L402.5 888.3 L403.7 888.3 L404.9 888.2 L406.1 888.2 L407.3 888.2 L408.5 888.2 L409.7 888.2 L410.9 888.2 L412.1 888.2 L413.3 888.2 L414.5 888.2 L415.8 888.2 L417.0 888.2 L418.2 888.2 L419.4 888.2 L420.6 888.2 L421.8 888.2 L423.0 888.1 L424.2 888.1 L425.4 888.1 L426.6 888.1 L427.8 888.1 L429.0 888.1 L430.2 888.1 L431.4 888.1 L432.6 888.1 L433.8 888.1 L435.0 888.0 L436.2 888.0 L437.4 888.0 L438.7 888.0 L439.9 888.0 L441.1 888.0 L442.3 888.0 L443.5 888.0 L444.7 888.0 L445.9 887.9 L447.1 887.9 L448.3 887.9 L449.5 887.9 L450.7 887.9 L451.9 887.9 L453.1 887.9 L454.3 887.8 L455.5 887.8 L456.7 887.8 L457.9 887.8 L459.1 887.8 L460.3 887.8 L461.6 887.7 L462.8 887.7 L464.0 887.7 L465.2 887.7 L466.4 887.7 L467.6 887.7 L468.8 887.6 L470.0 887.6 L471.2 887.6 L472.4 887.6 L473.6 887.6 L474.8 887.5 L476.0 887.5 L477.2 887.5 L478.4 887.5 L479.6 887.5 L480.8 887.4 L482.0 887.4 L483.2 887.4 L484.4 887.4 L485.6 887.3 L486.9 887.3 L488.1 887.3 L489.3 887.3 L490.5 887.2 L491.7 887.2 L492.9 887.2 L494.1 887.2 L495.3 887.1 L496.5 887.1 L497.7 887.1 L498.9 887.1 L500.1 887.0 L501.3 887.0 L502.5 887.0 L503.7 887.0 L504.9 886.9 L506.1 886.9 L507.3 886.9 L508.5 886.8 L509.7 886.8 L510.9 886.8 L512.1 886.7 L513.3 886.7 L514.6 886.7 L515.8 886.6 L517.0 886.6 L518.2 886.6 L519.4 886.5 L520.6 886.5 L521.8 886.5 L523.0 886.4 L524.2 886.4 L525.4 886.4 L526.6 886.3 L527.8 886.3 L529.0 886.3 L530.2 886.2 L531.4 886.2 L532.6 886.1 L533.8 886.1 L535.0 886.1 L536.2 886.0 L537.4 886.0 L538.6 885.9 L539.8 885.9 L541.0 885.9 L542.2 885.8 L543.4 885.8 L544.7 885.7 L545.9 885.7 L547.1 885.6 L548.3 885.6 L549.5 885.5 L550.7 885.5 L551.9 885.5 L553.1 885.4 L554.3 885.4 L555.5 885.3 L556.7 885.3 L557.9 885.2 L559.1 885.2 L560.3 885.1 L561.5 885.1 L562.7 885.0 L563.9 885.0 L565.1 884.9 L566.3 884.9 L567.5 884.8 L568.7 884.8 L569.9 884.7 L571.1 884.6 L572.3 884.6 L573.5 884.5 L574.7 884.5 L575.9 884.4 L577.1 884.4 L578.3 884.3 L579.5 884.2 L580.8 884.2 L582.0 884.1 L583.2 884.1 L584.4 884.0 L585.6 883.9 L586.8 883.9 L588.0 883.8 L589.2 883.7 L590.4 883.7 L591.6 883.6 L592.8 883.5 L594.0 883.5 L595.2 883.4 L596.4 883.3 L597.6 883.2 L598.8 883.2 L600.0 883.1 L601.2 883.0 L602.4 882.9 L603.6 882.8 L604.8 882.8 L606.0 882.7 L607.2 882.6 L608.4 882.5 L609.6 882.4 L610.8 882.3 L612.0 882.2 L613.2 882.1 L614.4 882.0 L615.6 881.9 L616.8 881.8 L618.0 881.7 L619.2 881.6 L620.3 881.4 L621.5 881.3 L622.7 881.2 L623.9 881.1 L625.1 881.0 L626.3 880.8 L627.5 880.7 L628.7 880.6 L629.9 880.4 L631.1 880.3 L632.3 880.1 L633.5 880.0 L634.7 879.8 L635.9 879.7 L637.0 879.5 L638.2 879.4 L639.4 879.2 L640.6 879.0 L641.8 878.9 L643.0 878.7 L644.2 878.5 L645.3 878.3 L646.5 878.1 L647.7 877.9 L648.9 877.7 L650.1 877.5 L651.3 877.3 L652.4 877.1 L653.6 876.9 L654.8 876.7 L656.0 876.5 L657.2 876.3 L658.3 876.0 L659.5 875.8 L660.7 875.6 L661.9 875.3 L663.1 875.1 L664.2 874.8 L665.4 874.6 L666.6 874.3 L667.7 874.0 L668.9 873.8 L670.1 873.5 L671.3 873.2 L672.4 872.9 L673.6 872.6 L674.8 872.4 L675.9 872.1 L677.1 871.7 L677.7 871.6 L679.3 871.1 L680.8 870.5 L682.2 869.9 L683.6 869.2 L685.0 868.4 L686.3 867.5 L687.6 866.6 L688.8 865.6 L689.9 864.5 L691.0 863.4 L692.1 862.1 L692.6 861.5 L693.3 860.5 L694.0 859.6 L694.7 858.6 L695.4 857.6 L696.1 856.6 L696.8 855.6 L697.4 854.6 L698.1 853.6 L698.8 852.6 L699.4 851.6 L700.0 850.6 L700.7 849.6 L701.3 848.6 L701.9 847.6 L702.5 846.5 L703.1 845.5 L703.7 844.5 L704.3 843.4 L704.9 842.4 L705.5 841.4 L706.1 840.3 L706.6 839.3 L707.2 838.2 L707.8 837.2 L708.3 836.1 L708.9 835.1 L709.4 834.0 L710.0 833.0 L710.5 831.9 L711.0 830.8 L711.6 829.8 L712.1 828.7 L712.6 827.6 L713.2 826.6 L713.7 825.5 L714.2 824.4 L714.7 823.4 L715.2 822.3 L715.8 821.2 L716.3 820.1 L716.8 819.0 L717.3 818.0 L717.8 816.9 L718.3 815.8 L718.9 814.7 L719.4 813.6 L719.9 812.5 L720.4 811.4 L720.9 810.4 L721.4 809.3 L721.9 808.2 L722.4 807.1 L722.9 806.0 L723.4 804.9 L723.9 803.8 L724.4 802.7 L724.9 801.6 L725.4 800.5 L725.9 799.4 L726.4 798.3 L726.9 797.2 L727.4 796.1 L727.9 795.0 L728.4 793.9 L728.8 792.8 L729.3 791.6 L729.8 790.5 L730.3 789.4 L730.8 788.3 L731.2 787.2 L731.7 786.1 L732.2 785.0 L732.6 783.8 L733.1 782.7 L733.6 781.6 L734.0 780.5 L734.5 779.4 L734.9 778.2 L735.4 777.1 L735.8 776.0 L736.3 774.9 L736.7 773.7 L737.1 772.6 L737.6 771.5 L738.0 770.4 L738.4 769.2 L738.9 768.1 L739.3 767.0 L739.7 765.8 L740.1 764.7 L740.5 763.5 L740.9 762.4 L741.3 761.3 L741.7 760.1 L742.1 759.0 L742.5 757.8 L742.9 756.7 L743.3 755.6 L743.6 754.4 L744.0 753.3 L744.4 752.1 L744.7 751.0 L745.1 749.8 L745.5 748.7 L745.8 747.5 L746.2 746.4 L746.5 745.2 L746.8 744.0 L747.2 742.9 L747.5 741.7 L747.8 740.6 L748.1 739.4 L748.4 738.3 L748.7 737.1 L749.0 735.9 L749.3 734.8 L749.6 733.6 L749.9 732.4 L750.2 731.3 L750.5 730.1 L750.8 728.9 L751.0 727.8 L751.3 726.6 L751.6 725.4 L751.8 724.2 L752.1 723.1 L752.3 721.9 L752.6 720.7 L752.8 719.6 L753.1 718.4 L753.3 717.2 L753.6 716.0 L753.8 714.8 L754.0 713.7 L754.3 712.5 L754.5 711.3 L754.7 710.1 L754.9 709.0 L755.2 707.8 L755.4 706.6 L755.6 705.4 L755.8 704.2 L756.0 703.0 L756.3 701.9 L756.5 700.7 L756.7 699.5 L756.9 698.3 L757.1 697.1 L757.3 696.0 L757.5 694.8 L757.7 693.6 L757.9 692.4 L758.2 691.2 L758.4 690.0 L758.6 688.9 L758.8 687.7 L759.0 686.5 L759.2 685.3 L759.4 684.1 L759.6 682.9 L759.8 681.7 L760.0 680.6 L760.2 679.4 L760.4 678.2 L760.6 677.0 L760.8 675.8 L761.0 674.6 L761.2 673.4 L761.4 672.3 L761.6 671.1 L761.8 669.9 L762.0 668.7 L762.2 667.5 L762.4 666.3 L762.7 665.2 L762.9 664.0 L763.1 662.8 L763.3 661.6 L763.5 660.4 L763.7 659.2 L763.9 658.0 L764.1 656.8 L764.3 655.7 L764.5 654.5 L764.7 653.3 L764.9 652.1 L765.1 650.9 L765.3 649.7 L765.5 648.5 L765.7 647.4 L765.9 646.2 L766.1 645.0 L766.3 643.8 L766.5 642.6 L766.7 641.4 L766.9 640.2 L767.1 639.0 L767.3 637.9 L767.5 636.7 L767.6 635.5 L767.8 634.3 L768.0 633.1 L768.2 631.9 L768.4 630.7 L768.6 629.6 L768.8 628.4 L769.0 627.2 L769.2 626.0 L769.4 624.8 L769.6 623.6 L769.8 622.4 L770.0 621.2 L770.2 620.1 L770.4 618.9 L770.6 617.7 L770.8 616.5 L771.0 615.3 L771.2 614.1 L771.4 612.9 L771.6 611.8 L771.9 610.6 L772.1 609.4 L772.3 608.2 L772.5 607.0 L772.7 605.8 L772.9 604.6 L773.1 603.4 L773.3 602.3 L773.5 601.1 L773.7 599.9 L773.9 598.7 L774.1 597.5 L774.3 596.3 L774.5 595.1 L774.7 594.0 L774.9 592.8 L775.1 591.6 L775.3 590.4 L775.5 589.2 L775.7 588.0 L775.9 586.8 L776.1 585.7 L776.3 584.5 L776.6 583.3 L776.8 582.1 L777.0 580.9 L777.2 579.7 L777.4 578.5 L777.6 577.4 L777.8 576.2 L778.0 575.0 L778.2 573.8 L778.4 572.6 L778.7 571.4 L778.9 570.2 L779.1 569.1 L779.3 567.9 L779.5 566.7 L779.7 565.5 L779.9 564.3 L780.2 563.1 L780.4 562.0 L780.6 560.8 L780.8 559.6 L781.0 558.4 L781.2 557.2 L781.5 556.0 L781.7 554.9 L781.9 553.7 L782.1 552.5 L782.3 551.3 L782.6 550.1 L782.8 548.9 L783.0 547.8 L783.2 546.6 L783.5 545.4 L783.7 544.2 L783.9 543.0 L784.1 541.8 L784.4 540.7 L784.6 539.5 L784.8 538.3 L785.1 537.1 L785.3 535.9 L785.5 534.8 L785.8 533.6 L786.0 532.4 L786.2 531.2 L786.5 530.0 L786.7 528.9 L786.9 527.7 L787.2 526.5 L787.4 525.3 L787.6 524.1 L787.9 523.0 L788.1 521.8 L788.4 520.6 L788.6 519.4 L788.8 518.3 L789.1 517.1 L789.3 515.9 L789.6 514.7 L789.8 513.5 L790.1 512.4 L790.3 511.2 L790.6 510.0 L790.8 508.8 L791.1 507.7 L791.3 506.5 L791.6 505.3 L791.8 504.1 L792.1 503.0 L792.3 501.8 L792.6 500.6 L792.9 499.4 L793.1 498.3 L793.4 497.1 L793.6 495.9 L793.9 494.7 L794.2 493.6 L794.4 492.4 L794.7 491.2 L795.0 490.0 L795.2 488.9 L795.5 487.7 L795.8 486.5 L796.0 485.4 L796.3 484.2 L796.6 483.0 L796.8 481.8 L797.1 480.7 L797.4 479.5 L797.7 478.3 L798.0 477.2 L798.2 476.0 L798.5 474.8 L798.8 473.7 L799.1 472.5 L799.4 471.3 L799.6 470.1 L799.9 469.0 L800.2 467.8 L800.5 466.6 L800.8 465.5 L801.1 464.3 L801.4 463.1 L801.7 462.0 L802.0 460.8 L802.3 459.6 L802.6 458.5 L802.9 457.3 L803.2 456.1 L803.5 455.0 L803.8 453.8 L804.1 452.7 L804.4 451.5 L804.7 450.3 L805.0 449.2 L805.3 448.0 L805.6 446.8 L805.9 445.7 L806.3 444.5 L806.6 443.4 L806.9 442.2 L807.2 441.0 L807.5 439.9 L807.9 438.7 L808.2 437.6 L808.5 436.4 L808.8 435.2 L809.2 434.1 L809.5 432.9 L809.8 431.8 L810.1 430.6 L810.5 429.4 L810.8 428.3 L811.2 427.1 L811.5 426.0 L811.8 424.8 L812.2 423.7 L812.5 422.5 L812.9 421.4 L813.2 420.2 L813.6 419.1 L813.9 417.9 L814.3 416.8 L814.7 415.6 L815.0 414.5 L815.4 413.3 L815.8 412.2 L816.2 411.0 L816.5 409.9 L816.9 408.8 L817.3 407.6 L817.7 406.5 L818.1 405.4 L818.5 404.2 L818.9 403.1 L819.4 402.0 L819.8 400.9 L820.2 399.7 L820.6 398.6 L821.1 397.5 L821.6 396.4 L822.0 395.3 L822.5 394.2 L823.0 393.1 L823.6 392.0 L824.1 391.0 L824.7 389.9 L825.3 388.8 L825.9 387.8 L826.5 386.8 L827.2 385.7 L827.9 384.7 L828.6 383.7 L829.3 382.8 L830.1 381.8 L831.0 381.0 L831.9 380.3 L832.9 379.7 L834.1 379.3 L835.2 379.1 L836.4 379.1 L837.6 379.3 L838.7 379.7 L839.7 380.3 L840.7 381.1 L841.6 381.9 L842.4 382.9 L843.1 383.8 L843.8 384.9 L844.4 385.9 L845.0 386.9 L845.6 388.0 L846.1 389.1 L846.7 390.1 L847.2 391.2 L847.8 392.3 L848.3 393.4 L848.8 394.5 L849.3 395.6 L849.8 396.7 L850.3 397.8 L850.7 398.9 L851.2 400.0 L851.7 401.1 L852.1 402.2 L852.6 403.3 L853.0 404.4 L853.4 405.6 L853.8 406.7 L854.2 407.8 L854.7 408.9 L855.1 410.1 L855.4 411.2 L855.8 412.3 L856.2 413.5 L856.6 414.6 L856.9 415.8 L857.3 416.9 L857.7 418.1 L858.0 419.2 L858.4 420.4 L858.7 421.5 L859.0 422.7 L859.4 423.8 L859.7 425.0 L860.0 426.2 L860.4 427.3 L860.7 428.5 L861.0 429.6 L861.3 430.8 L861.6 432.0 L861.9 433.1 L862.3 434.3 L862.6 435.5 L862.9 436.6 L863.2 437.8 L863.5 439.0 L863.8 440.1 L864.1 441.3 L864.4 442.5 L864.7 443.6 L865.0 444.8 L865.3 446.0 L865.6 447.1 L865.9 448.3 L866.2 449.5 L866.5 450.6 L866.8 451.8 L867.0 453.0 L867.3 454.1 L867.6 455.3 L867.9 456.5 L868.2 457.6 L868.5 458.8 L868.8 460.0 L869.0 461.1 L869.3 462.3 L869.6 463.5 L869.9 464.6 L870.2 465.8 L870.5 467.0 L870.7 468.1 L871.0 469.3 L871.3 470.5 L871.6 471.7 L871.8 472.8 L872.1 474.0 L872.4 475.2 L872.6 476.3 L872.9 477.5 L873.2 478.7 L873.5 479.9 L873.7 481.0 L874.0 482.2 L874.3 483.4 L874.5 484.5 L874.8 485.7 L875.0 486.9 L875.3 488.1 L875.6 489.2 L875.8 490.4 L876.1 491.6 L876.4 492.7 L876.6 493.9 L876.9 495.1 L877.1 496.3 L877.4 497.4 L877.6 498.6 L877.9 499.8 L878.1 501.0 L878.4 502.1 L878.7 503.3 L878.9 504.5 L879.2 505.7 L879.4 506.8 L879.7 508.0 L879.9 509.2 L880.2 510.4 L880.4 511.5 L880.6 512.7 L880.9 513.9 L881.1 515.1 L881.4 516.2 L881.6 517.4 L881.9 518.6 L882.1 519.8 L882.4 520.9 L882.6 522.1 L882.8 523.3 L883.1 524.5 L883.3 525.6 L883.6 526.8 L883.8 528.0 L884.0 529.2 L884.3 530.3 L884.5 531.5 L884.8 532.7 L885.0 533.9 L885.2 535.1 L885.5 536.2 L885.7 537.4 L885.9 538.6 L886.2 539.8 L886.4 540.9 L886.6 542.1 L886.9 543.3 L887.1 544.5 L887.3 545.7 L887.6 546.8 L887.8 548.0 L888.0 549.2 L888.3 550.4 L888.5 551.6 L888.7 552.7 L889.0 553.9 L889.2 555.1 L889.4 556.3 L889.6 557.5 L889.9 558.6 L890.1 559.8 L890.3 561.0 L890.6 562.2 L890.8 563.4 L891.0 564.5 L891.2 565.7 L891.5 566.9 L891.7 568.1 L891.9 569.3 L892.1 570.4 L892.4 571.6 L892.6 572.8 L892.8 574.0 L893.0 575.2 L893.3 576.4 L893.5 577.5 L893.7 578.7 L893.9 579.9 L894.2 581.1 L894.4 582.3 L894.6 583.4 L894.8 584.6 L895.0 585.8 L895.3 587.0 L895.5 588.2 L895.7 589.4 L895.9 590.5 L896.2 591.7 L896.4 592.9 L896.6 594.1 L896.8 595.3 L897.0 596.5 L897.3 597.6 L897.5 598.8 L897.7 600.0 L897.9 601.2 L898.2 602.4 L898.4 603.6 L898.6 604.7 L898.8 605.9 L899.0 607.1 L899.3 608.3 L899.5 609.5 L899.7 610.7 L899.9 611.9 L900.1 613.0 L900.4 614.2 L900.6 615.4 L900.8 616.6 L901.0 617.8 L901.3 619.0 L901.5 620.1 L901.7 621.3 L901.9 622.5 L902.1 623.7 L902.4 624.9 L902.6 626.1 L902.8 627.3 L903.0 628.4 L903.3 629.6 L903.5 630.8 L903.7 632.0 L903.9 633.2 L904.1 634.4 L904.4 635.6 L904.6 636.8 L904.8 637.9 L905.0 639.1 L905.3 640.3 L905.5 641.5 L905.7 642.7 L905.9 643.9 L906.2 645.1 L906.4 646.2 L906.6 647.4 L906.8 648.6 L907.1 649.8 L907.3 651.0" fill="none" stroke="#eb0029" stroke-width="4.0" stroke-linejoin="round"/>
</g>
<g id="brackets">
<path d="M315.4 233.0 H340.0 M315.4 260.2 H340.0" stroke="#b0b0b0" stroke-width="1.2" fill="none"/>
<path d="M327.4 233.0 V260.2" stroke="#858585" stroke-width="0.8" fill="none"/>
<path d="M460.0 227.0 H484.0 M460.0 263.5 H484.0" stroke="#b0b0b0" stroke-width="1.2" fill="none"/>
<path d="M472.5 227.0 V263.5" stroke="#858585" stroke-width="0.8" fill="none"/>
<path d="M592.8 223.0 H616.8 M592.8 271.5 H616.8" stroke="#b0b0b0" stroke-width="1.2" fill="none"/>
<path d="M605.0 223.0 V271.5" stroke="#858585" stroke-width="0.8" fill="none"/>
<path d="M700.0 210.8 H724.2 M700.0 278.4 H724.2" stroke="#b0b0b0" stroke-width="1.2" fill="none"/>
<path d="M712.4 210.8 V278.4" stroke="#858585" stroke-width="0.8" fill="none"/>
<path d="M875.0 204.1 H898.0 M875.0 286.8 H898.0" stroke="#b0b0b0" stroke-width="1.2" fill="none"/>
<path d="M885.8 204.1 V286.8" stroke="#858585" stroke-width="0.8" fill="none"/>
</g>
<g id="emission-and-excitation">
<path d="M307.75 133.00 L305.85 133.45 L303.98 133.90 L302.17 134.36 L300.47 134.84 L298.91 135.33 L297.54 135.85 L296.41 136.40 L295.54 136.99 L294.99 137.62 L294.80 138.30 L294.99 138.98 L295.54 139.61 L296.41 140.20 L297.54 140.75 L298.91 141.27 L300.47 141.76 L302.17 142.24 L303.98 142.70 L305.85 143.15 L307.75 143.60 L309.62 144.05 L311.43 144.51 L313.13 144.99 L314.69 145.48 L316.06 146.00 L317.19 146.55 L318.06 147.14 L318.61 147.77 L318.80 148.45 L318.61 149.13 L318.06 149.76 L317.19 150.35 L316.06 150.90 L314.69 151.42 L313.13 151.91 L311.43 152.39 L309.62 152.85 L307.75 153.30 L305.85 153.75 L303.98 154.20 L302.17 154.66 L300.47 155.14 L298.91 155.63 L297.54 156.15 L296.41 156.70 L295.54 157.29 L294.99 157.92 L294.80 158.60 L294.99 159.28 L295.54 159.91 L296.41 160.50 L297.54 161.05 L298.91 161.57 L300.47 162.06 L302.17 162.54 L303.98 163.00 L305.85 163.45 L307.75 163.90 L309.62 164.35 L311.43 164.81 L313.13 165.29 L314.69 165.78 L316.06 166.30 L317.19 166.85 L318.06 167.44 L318.61 168.07 L318.80 168.75 L318.61 169.43 L318.06 170.06 L317.19 170.65 L316.06 171.20 L314.69 171.72 L313.13 172.21 L311.43 172.69 L309.62 173.15 L307.75 173.60 L305.85 174.05 L303.98 174.50 L302.17 174.96 L300.47 175.44 L298.91 175.93 L297.54 176.45 L296.41 177.00 L295.54 177.59 L294.99 178.22 L294.80 178.90 L294.99 179.58 L295.54 180.21 L296.41 180.80 L297.54 181.35 L298.91 181.87 L300.47 182.36 L302.17 182.84 L303.98 183.30 L305.85 183.75 L307.75 184.20 L309.62 184.65 L311.43 185.11 L313.13 185.59 L314.69 186.08 L316.06 186.60 L317.19 187.15 L318.06 187.74 L318.61 188.37 L318.80 189.05 L318.61 189.73 L318.06 190.36 L317.19 190.95 L316.06 191.50 L314.69 192.02 L313.13 192.51 L311.43 192.99 L309.62 193.45 L307.75 193.90 L305.85 194.35 L303.98 194.80 L302.17 195.26 L300.47 195.74 L298.91 196.23 L297.54 196.75 L296.41 197.30 L295.54 197.89 L294.99 198.52 L294.80 199.20 L294.99 199.88 L295.54 200.51 L296.41 201.10 L297.54 201.65 L298.91 202.17 L300.47 202.66 L302.17 203.14 L303.98 203.60 L305.85 204.05 Q308.40 204.68 308.40 207.68 L308.40 217.50" fill="none" stroke="#0000ff" stroke-width="3.60" stroke-linejoin="round"/><path d="M301.70 217.00 L315.10 217.00 L308.40 230.40 Z" fill="#0000ff"/>
<path d="M302.17 258.06 L300.47 258.61 L298.91 259.18 L297.54 259.78 L296.41 260.41 L295.54 261.09 L294.99 261.82 L294.80 262.60 L294.99 263.38 L295.54 264.11 L296.41 264.79 L297.54 265.42 L298.91 266.02 L300.47 266.59 L302.17 267.14 L303.98 267.67 L305.85 268.19 L307.75 268.71 L309.62 269.23 L311.43 269.76 L313.13 270.31 L314.69 270.88 L316.06 271.48 L317.19 272.11 L318.06 272.79 L318.61 273.52 L318.80 274.30 L318.61 275.08 L318.06 275.81 L317.19 276.49 L316.06 277.12 L314.69 277.72 L313.13 278.29 L311.43 278.84 L309.62 279.37 L307.75 279.89 L305.85 280.41 L303.98 280.93 L302.17 281.46 L300.47 282.01 L298.91 282.58 L297.54 283.18 L296.41 283.81 L295.54 284.49 L294.99 285.22 L294.80 286.00 L294.99 286.78 L295.54 287.51 L296.41 288.19 L297.54 288.82 L298.91 289.42 L300.47 289.99 L302.17 290.54 L303.98 291.07 L305.85 291.59 L307.75 292.11 L309.62 292.63 L311.43 293.16 L313.13 293.71 L314.69 294.28 L316.06 294.88 L317.19 295.51 L318.06 296.19 L318.61 296.92 L318.80 297.70 L318.61 298.48 L318.06 299.21 L317.19 299.89 L316.06 300.52 L314.69 301.12 L313.13 301.69 L311.43 302.24 L309.62 302.77 L307.75 303.29 L305.85 303.81 L303.98 304.33 L302.17 304.86 L300.47 305.41 L298.91 305.98 L297.54 306.58 L296.41 307.21 L295.54 307.89 L294.99 308.62 L294.80 309.40 L294.99 310.18 L295.54 310.91 L296.41 311.59 L297.54 312.22 L298.91 312.82 L300.47 313.39 L302.17 313.94 L303.98 314.47 L305.85 314.99 L307.75 315.51 L309.62 316.03 L311.43 316.56 L313.13 317.11 L314.69 317.68 L316.06 318.28 L317.19 318.91 L318.06 319.59 L318.61 320.32 L318.80 321.10 L318.61 321.88 L318.06 322.61 L317.19 323.29 L316.06 323.92 L314.69 324.52 L313.13 325.09 L311.43 325.64 L309.62 326.17 L307.75 326.69 L305.85 327.21 L303.98 327.73 L302.17 328.26 L300.47 328.81 L298.91 329.38 L297.54 329.98 L296.41 330.61 L295.54 331.29 L294.99 332.02 L294.80 332.80 L294.99 333.58 L295.54 334.31 L296.41 334.99 L297.54 335.62 L298.91 336.22 L300.47 336.79 L302.17 337.34 L303.98 337.87 L305.85 338.39 Q308.40 339.12 308.40 342.12 L308.40 356.70" fill="none" stroke="#91d4c8" stroke-width="3.60" stroke-linejoin="round"/><path d="M301.70 356.20 L315.10 356.20 L308.40 368.80 Z" fill="#91d4c8"/>
<path d="M430.19 131.78 L430.74 132.42 L431.61 133.01 L432.74 133.56 L434.11 134.08 L435.67 134.58 L437.37 135.06 L439.18 135.52 L441.05 135.97 L442.95 136.43 L444.82 136.88 L446.63 137.34 L448.33 137.82 L449.89 138.32 L451.26 138.84 L452.39 139.39 L453.26 139.98 L453.81 140.62 L454.00 141.30 L453.81 141.98 L453.26 142.62 L452.39 143.21 L451.26 143.76 L449.89 144.28 L448.33 144.78 L446.63 145.26 L444.82 145.72 L442.95 146.17 L441.05 146.63 L439.18 147.08 L437.37 147.54 L435.67 148.02 L434.11 148.52 L432.74 149.04 L431.61 149.59 L430.74 150.18 L430.19 150.82 L430.00 151.50 L430.19 152.18 L430.74 152.82 L431.61 153.41 L432.74 153.96 L434.11 154.48 L435.67 154.98 L437.37 155.46 L439.18 155.92 L441.05 156.37 L442.95 156.83 L444.82 157.28 L446.63 157.74 L448.33 158.22 L449.89 158.72 L451.26 159.24 L452.39 159.79 L453.26 160.38 L453.81 161.02 L454.00 161.70 L453.81 162.38 L453.26 163.02 L452.39 163.61 L451.26 164.16 L449.89 164.68 L448.33 165.18 L446.63 165.66 L444.82 166.12 L442.95 166.57 L441.05 167.03 L439.18 167.48 L437.37 167.94 L435.67 168.42 L434.11 168.92 L432.74 169.44 L431.61 169.99 L430.74 170.58 L430.19 171.22 L430.00 171.90 L430.19 172.58 L430.74 173.22 L431.61 173.81 L432.74 174.36 L434.11 174.88 L435.67 175.38 L437.37 175.86 L439.18 176.32 L441.05 176.77 L442.95 177.23 L444.82 177.68 L446.63 178.14 L448.33 178.62 L449.89 179.12 L451.26 179.64 L452.39 180.19 L453.26 180.78 L453.81 181.42 L454.00 182.10 L453.81 182.78 L453.26 183.42 L452.39 184.01 L451.26 184.56 L449.89 185.08 L448.33 185.58 L446.63 186.06 L444.82 186.52 L442.95 186.97 L441.05 187.43 L439.18 187.88 L437.37 188.34 L435.67 188.82 L434.11 189.32 L432.74 189.84 L431.61 190.39 L430.74 190.98 L430.19 191.62 L430.00 192.30 L430.19 192.98 L430.74 193.62 L431.61 194.21 L432.74 194.76 L434.11 195.28 L435.67 195.78 L437.37 196.26 L439.18 196.72 Q443.20 197.80 443.20 200.80 L443.20 211.10" fill="none" stroke="#0000ff" stroke-width="3.60" stroke-linejoin="round"/><path d="M436.50 210.60 L449.90 210.60 L443.20 223.80 Z" fill="#0000ff"/>
<path d="M432.74 262.01 L431.61 262.86 L430.74 263.77 L430.19 264.75 L430.00 265.80 L430.19 266.85 L430.74 267.83 L431.61 268.74 L432.74 269.59 L434.11 270.39 L435.67 271.16 L437.37 271.89 L439.18 272.60 L441.05 273.30 L442.95 274.00 L444.82 274.70 L446.63 275.41 L448.33 276.14 L449.89 276.91 L451.26 277.71 L452.39 278.56 L453.26 279.47 L453.81 280.45 L454.00 281.50 L453.81 282.55 L453.26 283.53 L452.39 284.44 L451.26 285.29 L449.89 286.09 L448.33 286.86 L446.63 287.59 L444.82 288.30 L442.95 289.00 L441.05 289.70 L439.18 290.40 L437.37 291.11 L435.67 291.84 L434.11 292.61 L432.74 293.41 L431.61 294.26 L430.74 295.17 L430.19 296.15 L430.00 297.20 L430.19 298.25 L430.74 299.23 L431.61 300.14 L432.74 300.99 L434.11 301.79 L435.67 302.56 L437.37 303.29 L439.18 304.00 L441.05 304.70 L442.95 305.40 L444.82 306.10 L446.63 306.81 L448.33 307.54 L449.89 308.31 L451.26 309.11 L452.39 309.96 L453.26 310.87 L453.81 311.85 L454.00 312.90 L453.81 313.95 L453.26 314.93 L452.39 315.84 L451.26 316.69 L449.89 317.49 L448.33 318.26 L446.63 318.99 L444.82 319.70 L442.95 320.40 L441.05 321.10 L439.18 321.80 L437.37 322.51 L435.67 323.24 L434.11 324.01 L432.74 324.81 L431.61 325.66 L430.74 326.57 L430.19 327.55 L430.00 328.60 L430.19 329.65 L430.74 330.63 L431.61 331.54 L432.74 332.39 L434.11 333.19 L435.67 333.96 L437.37 334.69 L439.18 335.40 Q443.20 337.06 443.20 340.06 L443.20 352.50" fill="none" stroke="#26923c" stroke-width="3.60" stroke-linejoin="round"/><path d="M436.50 352.00 L449.90 352.00 L443.20 365.00 Z" fill="#26923c"/>
<path d="M576.39 133.68 L577.76 134.20 L578.89 134.75 L579.76 135.34 L580.31 135.97 L580.50 136.65 L580.31 137.33 L579.76 137.96 L578.89 138.55 L577.76 139.10 L576.39 139.62 L574.83 140.11 L573.13 140.59 L571.32 141.05 L569.45 141.50 L567.55 141.95 L565.68 142.40 L563.87 142.86 L562.17 143.34 L560.61 143.83 L559.24 144.35 L558.11 144.90 L557.24 145.49 L556.69 146.12 L556.50 146.80 L556.69 147.48 L557.24 148.11 L558.11 148.70 L559.24 149.25 L560.61 149.77 L562.17 150.26 L563.87 150.74 L565.68 151.20 L567.55 151.65 L569.45 152.10 L571.32 152.55 L573.13 153.01 L574.83 153.49 L576.39 153.98 L577.76 154.50 L578.89 155.05 L579.76 155.64 L580.31 156.27 L580.50 156.95 L580.31 157.63 L579.76 158.26 L578.89 158.85 L577.76 159.40 L576.39 159.92 L574.83 160.41 L573.13 160.89 L571.32 161.35 L569.45 161.80 L567.55 162.25 L565.68 162.70 L563.87 163.16 L562.17 163.64 L560.61 164.13 L559.24 164.65 L558.11 165.20 L557.24 165.79 L556.69 166.42 L556.50 167.10 L556.69 167.78 L557.24 168.41 L558.11 169.00 L559.24 169.55 L560.61 170.07 L562.17 170.56 L563.87 171.04 L565.68 171.50 L567.55 171.95 L569.45 172.40 L571.32 172.85 L573.13 173.31 L574.83 173.79 L576.39 174.28 L577.76 174.80 L578.89 175.35 L579.76 175.94 L580.31 176.57 L580.50 177.25 L580.31 177.93 L579.76 178.56 L578.89 179.15 L577.76 179.70 L576.39 180.22 L574.83 180.71 L573.13 181.19 L571.32 181.65 L569.45 182.10 L567.55 182.55 L565.68 183.00 L563.87 183.46 L562.17 183.94 L560.61 184.43 L559.24 184.95 L558.11 185.50 L557.24 186.09 L556.69 186.72 L556.50 187.40 L556.69 188.08 L557.24 188.71 L558.11 189.30 L559.24 189.85 L560.61 190.37 L562.17 190.86 L563.87 191.34 L565.68 191.80 L567.55 192.25 Q570.00 192.86 570.00 195.86 L570.00 206.30" fill="none" stroke="#0000ff" stroke-width="3.60" stroke-linejoin="round"/><path d="M563.30 205.80 L576.70 205.80 L570.00 219.20 Z" fill="#0000ff"/>
<path d="M578.89 271.03 L579.76 272.14 L580.31 273.32 L580.50 274.60 L580.31 275.88 L579.76 277.06 L578.89 278.17 L577.76 279.21 L576.39 280.19 L574.83 281.12 L573.13 282.01 L571.32 282.88 L569.45 283.73 L567.55 284.57 L565.68 285.42 L563.87 286.29 L562.17 287.18 L560.61 288.11 L559.24 289.09 L558.11 290.13 L557.24 291.24 L556.69 292.42 L556.50 293.70 L556.69 294.98 L557.24 296.16 L558.11 297.27 L559.24 298.31 L560.61 299.29 L562.17 300.22 L563.87 301.11 L565.68 301.98 L567.55 302.83 L569.45 303.67 L571.32 304.52 L573.13 305.39 L574.83 306.28 L576.39 307.21 L577.76 308.19 L578.89 309.23 L579.76 310.34 L580.31 311.52 L580.50 312.80 L580.31 314.08 L579.76 315.26 L578.89 316.37 L577.76 317.41 L576.39 318.39 L574.83 319.32 L573.13 320.21 L571.32 321.08 L569.45 321.93 L567.55 322.77 L565.68 323.62 L563.87 324.49 L562.17 325.38 L560.61 326.31 L559.24 327.29 L558.11 328.33 L557.24 329.44 L556.69 330.62 L556.50 331.90 L556.69 333.18 L557.24 334.36 L558.11 335.47 L559.24 336.51 L560.61 337.49 L562.17 338.42 L563.87 339.31 L565.68 340.18 L567.55 341.03 Q570.00 342.17 570.00 345.17 L570.00 354.30" fill="none" stroke="#7dbd19" stroke-width="3.60" stroke-linejoin="round"/><path d="M563.30 353.80 L576.70 353.80 L570.00 366.80 Z" fill="#7dbd19"/>
<path d="M745.33 130.56 L743.62 131.04 L742.05 131.53 L740.67 132.05 L739.52 132.60 L738.65 133.19 L738.09 133.82 L737.90 134.50 L738.09 135.18 L738.65 135.81 L739.52 136.40 L740.67 136.95 L742.05 137.47 L743.62 137.96 L745.33 138.44 L747.16 138.90 L749.05 139.35 L750.95 139.80 L752.84 140.25 L754.67 140.71 L756.38 141.19 L757.95 141.68 L759.33 142.20 L760.48 142.75 L761.35 143.34 L761.91 143.97 L762.10 144.65 L761.91 145.33 L761.35 145.96 L760.48 146.55 L759.33 147.10 L757.95 147.62 L756.38 148.11 L754.67 148.59 L752.84 149.05 L750.95 149.50 L749.05 149.95 L747.16 150.40 L745.33 150.86 L743.62 151.34 L742.05 151.83 L740.67 152.35 L739.52 152.90 L738.65 153.49 L738.09 154.12 L737.90 154.80 L738.09 155.48 L738.65 156.11 L739.52 156.70 L740.67 157.25 L742.05 157.77 L743.62 158.26 L745.33 158.74 L747.16 159.20 L749.05 159.65 L750.95 160.10 L752.84 160.55 L754.67 161.01 L756.38 161.49 L757.95 161.98 L759.33 162.50 L760.48 163.05 L761.35 163.64 L761.91 164.27 L762.10 164.95 L761.91 165.63 L761.35 166.26 L760.48 166.85 L759.33 167.40 L757.95 167.92 L756.38 168.41 L754.67 168.89 L752.84 169.35 L750.95 169.80 L749.05 170.25 L747.16 170.70 L745.33 171.16 L743.62 171.64 L742.05 172.13 L740.67 172.65 L739.52 173.20 L738.65 173.79 L738.09 174.42 L737.90 175.10 L738.09 175.78 L738.65 176.41 L739.52 177.00 L740.67 177.55 L742.05 178.07 L743.62 178.56 L745.33 179.04 L747.16 179.50 Q751.30 180.59 751.30 183.59 L751.30 194.00" fill="none" stroke="#0000ff" stroke-width="3.60" stroke-linejoin="round"/><path d="M744.60 193.50 L758.00 193.50 L751.30 206.40 Z" fill="#0000ff"/>
<path d="M738.09 276.38 L737.90 278.00 L738.09 279.62 L738.65 281.13 L739.52 282.53 L740.67 283.85 L742.05 285.09 L743.62 286.28 L745.33 287.41 L747.16 288.51 L749.05 289.59 L750.95 290.66 L752.84 291.74 L754.67 292.84 L756.38 293.97 L757.95 295.16 L759.33 296.40 L760.48 297.72 L761.35 299.12 L761.91 300.63 L762.10 302.25 L761.91 303.87 L761.35 305.38 L760.48 306.78 L759.33 308.10 L757.95 309.34 L756.38 310.53 L754.67 311.66 L752.84 312.76 L750.95 313.84 L749.05 314.91 L747.16 315.99 L745.33 317.09 L743.62 318.22 L742.05 319.41 L740.67 320.65 L739.52 321.97 L738.65 323.37 L738.09 324.88 L737.90 326.50 L738.09 328.12 L738.65 329.63 L739.52 331.03 L740.67 332.35 L742.05 333.59 L743.62 334.78 L745.33 335.91 L747.16 337.01 Q751.30 339.62 751.30 342.62 L751.30 352.70" fill="none" stroke="#f04e1b" stroke-width="3.30" stroke-linejoin="round"/><path d="M744.60 352.20 L758.00 352.20 L751.30 364.80 Z" fill="#f04e1b"/>
<path d="M823.19 129.88 L823.74 130.51 L824.61 131.10 L825.74 131.65 L827.11 132.17 L828.67 132.66 L830.37 133.14 L832.18 133.60 L834.05 134.05 L835.95 134.50 L837.82 134.95 L839.63 135.41 L841.33 135.89 L842.89 136.38 L844.26 136.90 L845.39 137.45 L846.26 138.04 L846.81 138.67 L847.00 139.35 L846.81 140.03 L846.26 140.66 L845.39 141.25 L844.26 141.80 L842.89 142.32 L841.33 142.81 L839.63 143.29 L837.82 143.75 L835.95 144.20 L834.05 144.65 L832.18 145.10 L830.37 145.56 L828.67 146.04 L827.11 146.53 L825.74 147.05 L824.61 147.60 L823.74 148.19 L823.19 148.82 L823.00 149.50 L823.19 150.18 L823.74 150.81 L824.61 151.40 L825.74 151.95 L827.11 152.47 L828.67 152.96 L830.37 153.44 L832.18 153.90 L834.05 154.35 L835.95 154.80 L837.82 155.25 L839.63 155.71 L841.33 156.19 L842.89 156.68 L844.26 157.20 L845.39 157.75 L846.26 158.34 L846.81 158.97 L847.00 159.65 L846.81 160.33 L846.26 160.96 L845.39 161.55 L844.26 162.10 L842.89 162.62 L841.33 163.11 L839.63 163.59 L837.82 164.05 L835.95 164.50 L834.05 164.95 L832.18 165.40 L830.37 165.86 L828.67 166.34 L827.11 166.83 L825.74 167.35 L824.61 167.90 L823.74 168.49 L823.19 169.12 L823.00 169.80 L823.19 170.48 L823.74 171.11 L824.61 171.70 L825.74 172.25 L827.11 172.77 L828.67 173.26 L830.37 173.74 L832.18 174.20 L834.05 174.65 Q836.50 175.26 836.50 178.26 L836.50 188.80" fill="none" stroke="#0000ff" stroke-width="3.60" stroke-linejoin="round"/><path d="M829.80 188.30 L843.20 188.30 L836.50 201.00 Z" fill="#0000ff"/>
<path d="M846.81 285.09 L847.00 287.20 L846.81 289.31 L846.26 291.27 L845.39 293.09 L844.26 294.80 L842.89 296.42 L841.33 297.95 L839.63 299.42 L837.82 300.85 L835.95 302.25 L834.05 303.65 L832.18 305.05 L830.37 306.48 L828.67 307.95 L827.11 309.48 L825.74 311.10 L824.61 312.81 L823.74 314.63 L823.19 316.59 L823.00 318.70 L823.19 320.81 L823.74 322.77 L824.61 324.59 L825.74 326.30 L827.11 327.92 L828.67 329.45 L830.37 330.92 L832.18 332.35 L834.05 333.75 Q836.50 335.63 836.50 338.63 L836.50 351.90" fill="none" stroke="#eb0029" stroke-width="3.10" stroke-linejoin="round"/><path d="M829.80 351.40 L843.20 351.40 L836.50 364.20 Z" fill="#eb0029"/>
</g>
<g id="dots">
<circle cx="306.90" cy="246.60" r="14.20" fill="url(#g0)"/>
<circle cx="442.00" cy="245.10" r="19.00" fill="url(#g1)"/>
<circle cx="569.00" cy="246.90" r="25.20" fill="url(#g2)"/>
<circle cx="749.60" cy="244.65" r="34.65" fill="url(#g3)"/>
<circle cx="835.00" cy="245.00" r="41.90" fill="url(#g4)"/>
</g>
<g id="labels">
<text transform="translate(210.73 81.0) scale(0.9349 1)" font-size="48.4" stroke-width="0.77">Quantum Dot Size and Color</text>
<text transform="translate(149.91 180.9) scale(0.9433 1)" font-size="29.5" stroke-width="0.35">Blue light</text>
<text transform="translate(80.83 253.7) scale(0.97 1)" font-size="29.5" stroke-width="0.35">Quantum Dots</text>
<text transform="translate(68.64 305.9) scale(0.9562 1)" font-size="29.5" stroke-width="0.35">Size dependent</text>
<text transform="translate(203.75 341.1) scale(0.9522 1)" font-size="29.5" stroke-width="0.35">color</text>
<text transform="translate(341.25 253.2) scale(0.9459 1)" font-size="19.8" stroke-width="0.10">2nm</text>
<text transform="translate(482.16 251.7) scale(0.9383 1)" font-size="19.8" stroke-width="0.10">2.5nm</text>
<text transform="translate(615.8 253.2) scale(0.9262 1)" font-size="19.8" stroke-width="0.10">3nm</text>
<text transform="translate(667.9 250.6) scale(0.9302 1)" font-size="19.8" stroke-width="0.10">5nm</text>
<text transform="translate(893.74 254.7) scale(0.956 1)" font-size="26.5" stroke-width="0.21">6nm</text>
<text transform="translate(56.2 947.3) scale(0.9545 1)" font-size="26.5" stroke-width="0.21">450</text>
<text transform="translate(262.72 947.3) scale(0.977 1)" font-size="26.5" stroke-width="0.21">500</text>
<text transform="translate(470.54 947.3) scale(0.9629 1)" font-size="26.5" stroke-width="0.21">550</text>
<text transform="translate(677.93 947.3) scale(0.9652 1)" font-size="26.5" stroke-width="0.21">600</text>
<text transform="translate(884.93 947.3) scale(0.97 1)" font-size="26.5" stroke-width="0.21">650</text>
<text transform="translate(385.6 976.8) scale(0.9001 1)" font-size="33.4" stroke-width="0.40">Wavelength (nm)</text>
<text transform="translate(60.3 732.55) rotate(-90) scale(0.9241 1)" font-size="33.2" stroke-width="0.40">Fluorescence</text>
</g>
</svg>
</body></html>
